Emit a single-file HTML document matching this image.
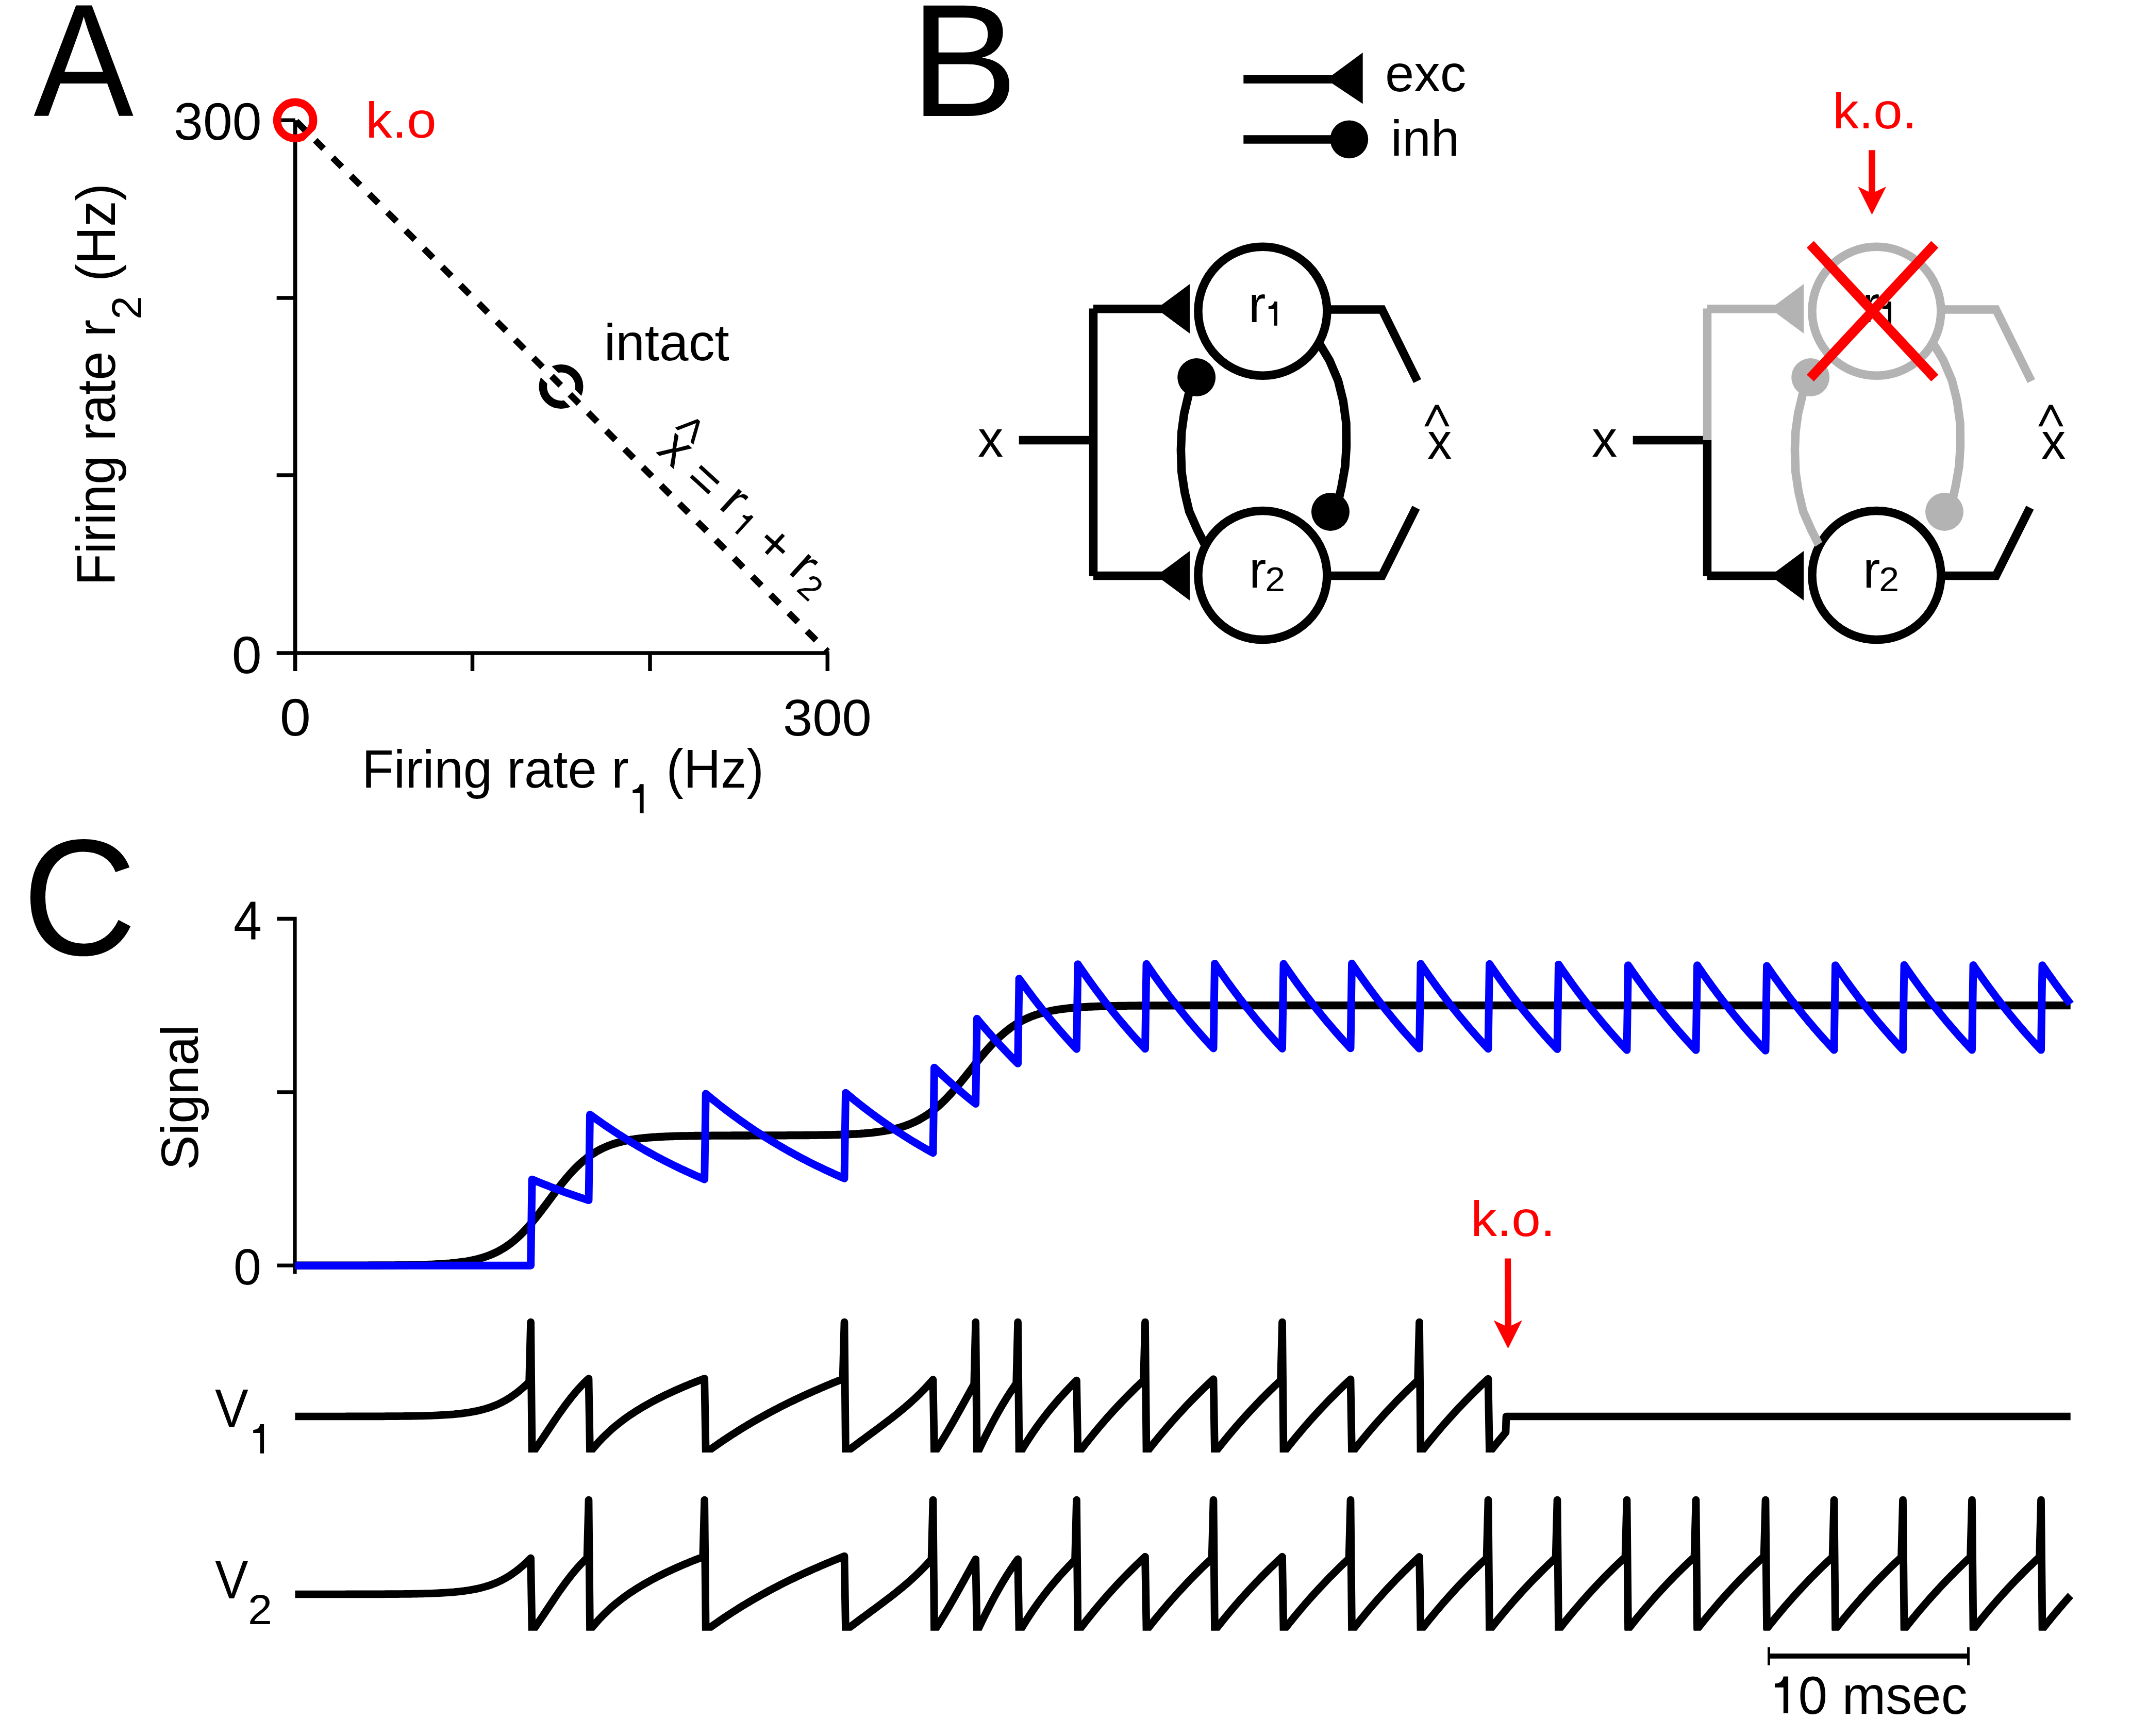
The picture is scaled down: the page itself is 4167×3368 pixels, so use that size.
<!DOCTYPE html>
<html><head><meta charset="utf-8"><style>html,body{margin:0;padding:0;background:#fff}svg{display:block}</style></head><body>
<svg width="4167" height="3368" viewBox="0 0 4167 3368" style="font-family:'Liberation Sans',sans-serif">
<rect width="4167" height="3368" fill="#fff"/>
<text transform="translate(65.2,224.7) scale(0.9340,1)" font-size="311.4" fill="#000">A</text>
<text transform="translate(1765.8,225.0) scale(1.0046,1)" font-size="311.6" fill="#000">B</text>
<text transform="translate(43.4,1852.2) scale(0.9551,1)" font-size="321.2" fill="#000">C</text>
<text transform="translate(337.1,270.7) scale(1,1.0080)" font-size="102.1" fill="#000" >300</text>
<text transform="translate(449.8,1305.5) scale(1,0.9803)" font-size="104.2" fill="#000" >0</text>
<text transform="translate(542.7,1427.0) scale(1,0.9361)" font-size="108.3" fill="#000" >0</text>
<text transform="translate(1518.9,1426.5) scale(1,0.9763)" font-size="103.1" fill="#000" >300</text>
<text transform="translate(701.9,1527.8) scale(1,1.0318)" font-size="101.3" fill="#000">Firing rate r</text>
<path transform="translate(1219.04,1577.50) scale(0.08281,-0.08009)" d="M357,0 L357,703 L266,703 C250,610 190,567 101,567 L101,493 L266,493 L266,0 Z" fill="#000"/>
<text transform="translate(1292.6,1527.8) scale(1,1.0489)" font-size="100.2" fill="#000">(Hz)</text>
<text transform="translate(223.0,1136.1) rotate(-90) scale(1,1.0445)" font-size="101.0" fill="#000">Firing rate r</text>
<text transform="translate(274.1,619.8) rotate(-90) scale(1,0.9936)" font-size="82.0" fill="#000">2</text>
<text transform="translate(222.9,546.0) rotate(-90) scale(1,1.0480)" font-size="100.7" fill="#000">(Hz)</text>
<g stroke="#000" stroke-width="7.5" fill="none" stroke-linecap="butt">
<path d="M572.7,233.3 V1302.0 M536.7,1267.0 H1608.75"/>
<path d="M536.7,233.3 H572.7"/>
<path d="M536.7,578.0 H572.7"/>
<path d="M536.7,922.0 H572.7"/>
<path d="M916.5,1267.0 V1302.0"/>
<path d="M1261.0,1267.0 V1302.0"/>
<path d="M1605.3,1267.0 V1302.0"/>
</g>
<circle cx="1088.5" cy="750" r="35.2" stroke="#000" stroke-width="15.6" fill="none"/>
<path d="M1030,691.5 L1150,811.5" stroke="#fff" stroke-width="30" fill="none"/>
<path d="M572.7,233.3 L1605.5,1264.3" stroke="#000" stroke-width="12.6" stroke-dasharray="25 25" stroke-dashoffset="-2.8" fill="none"/>
<circle cx="572.6" cy="233.3" r="35.1" stroke="#ff0000" stroke-width="15.5" fill="none"/>
<path d="M590.4,272.2 L611.6,251 L622.2,261.6 L601,282.8 Z" fill="#fff"/>
<text transform="translate(709.2,266.9) scale(1,0.9556)" font-size="103.0" fill="#ff0000" >k.o</text>
<text transform="translate(1171.7,698.5) scale(1,0.9790)" font-size="101.7" fill="#000" >intact</text>
<g transform="translate(1271.3,877.2) rotate(42.5)">
<text transform="scale(1,1.02)" font-size="100">x</text>
<path d="M-4.05,-60.80 L16.95,-102.70 L23.65,-102.70 L44.65,-60.80 L37.15,-60.80 L20.35,-94.90 L3.45,-60.80 Z" fill="#000"/>
<text transform="translate(77.4,8) scale(1,1.02)" font-size="100">=</text>
<text transform="translate(160.6,-3) scale(1,1.02)" font-size="100">r</text>
<path transform="translate(201.8,10.5) scale(0.066,-0.066)" d="M357,0 L357,703 L266,703 C250,610 190,567 101,567 L101,493 L266,493 L266,0 Z" fill="#000"/>
<text transform="translate(262.4,9) scale(1,1.02)" font-size="100">+</text>
<text transform="translate(345.6,-1) scale(1,1.02)" font-size="100">r</text>
<text transform="translate(380.9,14) scale(1,1.02)" font-size="66">2</text>
</g>
<g fill="#000" stroke="none">
<path d="M2412.3,154 H2590" stroke="#000" stroke-width="16"/>
<path d="M2572.8,154.3 L2643.7,102.1 L2643.7,201.5 Z"/>
<path d="M2412.3,270.6 H2600" stroke="#000" stroke-width="16.5"/>
<circle cx="2617.3" cy="270.3" r="36.9"/>
</g>
<text transform="translate(2687.0,176.8) scale(1,0.9845)" font-size="101.2" fill="#000" >exc</text>
<text transform="translate(2698.0,301.6) scale(1,0.9811)" font-size="99.8" fill="#000" >inh</text>
<g transform="translate(0,0)" fill="none" stroke-width="16.5" stroke-linecap="butt" stroke-linejoin="miter" stroke-miterlimit="2">
<path d="M1976.7,854 H2121" stroke="#000"/>
<path d="M2121,854 V1118 M2121,1117 H2258" stroke="#000"/>
<path d="M2121,854 V598.5 M2121,599.3 H2258" stroke="#000"/>
<path d="M2243.3,599.1 L2308.1,551.1 L2308.1,647 Z" fill="#000" stroke="none"/>
<path d="M2243.3,1117 L2308.1,1069 L2308.1,1165 Z" fill="#000" stroke="none"/>
<circle cx="2449.4" cy="603.8" r="125" stroke="#000"/>
<circle cx="2449.4" cy="1116" r="125" stroke="#000"/>
<path d="M2574,600.4 H2681 L2749.6,739.3" stroke="#000"/>
<path d="M2574,1117 H2681 L2747,985" stroke="#000"/>
<path d="M2337.5,1056 L2335.4,1052.8 L2322.6,1027.4 L2307,992.1 L2298.2,954.9 L2292.3,915.8 L2290.9,872.7 L2292.3,837.5 L2297.2,802.2 L2306,765 L2312,745" stroke="#000"/>
<path d="M2558,665 L2561.5,669.8 L2579.2,699.2 L2595.8,738.3 L2605.6,777.5 L2611.5,820.5 L2612,865.6 L2609.5,904.7 L2602.6,943.9 L2597.8,965.4 L2592,985" stroke="#000"/>
<circle cx="2321.2" cy="732.1" r="37" fill="#000" stroke="none"/>
<circle cx="2581" cy="992.9" r="37" fill="#000" stroke="none"/>
</g>
<text transform="translate(1897.0,886.3) scale(1,1.0205)" font-size="98.5" fill="#000" >x</text>
<text transform="translate(2769.1,890.0) scale(1,1.0350)" font-size="94.8" fill="#000" >x</text>
<path d="M2763.10,827.30 L2784.10,785.40 L2790.80,785.40 L2811.80,827.30 L2804.30,827.30 L2787.50,793.20 L2770.60,827.30 Z" fill="#000"/>
<text transform="translate(2421.7,624.7) scale(1,0.9808)" font-size="101.2" fill="#000" >r</text>
<path transform="translate(2454.05,631.80) scale(0.06680,-0.06643)" d="M357,0 L357,703 L266,703 C250,610 190,567 101,567 L101,493 L266,493 L266,0 Z" fill="#000"/>
<text transform="translate(2422.9,1139.7) scale(1,0.9886)" font-size="100.4" fill="#000" >r</text>
<text transform="translate(2454.2,1146.7) scale(1,0.9540)" font-size="69.8" fill="#000" >2</text>
<g transform="translate(1191,0)" fill="none" stroke-width="16.5" stroke-linecap="butt" stroke-linejoin="miter" stroke-miterlimit="2">
<path d="M1976.7,854 H2121" stroke="#000"/>
<path d="M2121,854 V1118 M2121,1117 H2258" stroke="#000"/>
<path d="M2121,854 V598.5 M2121,599.3 H2258" stroke="#b3b3b3"/>
<path d="M2243.3,599.1 L2308.1,551.1 L2308.1,647 Z" fill="#b3b3b3" stroke="none"/>
<path d="M2243.3,1117 L2308.1,1069 L2308.1,1165 Z" fill="#000" stroke="none"/>
<circle cx="2449.4" cy="603.8" r="125" stroke="#b3b3b3"/>
<circle cx="2449.4" cy="1116" r="125" stroke="#000"/>
<path d="M2574,600.4 H2681 L2749.6,739.3" stroke="#b3b3b3"/>
<path d="M2574,1117 H2681 L2747,985" stroke="#000"/>
<path d="M2337.5,1056 L2335.4,1052.8 L2322.6,1027.4 L2307,992.1 L2298.2,954.9 L2292.3,915.8 L2290.9,872.7 L2292.3,837.5 L2297.2,802.2 L2306,765 L2312,745" stroke="#b3b3b3"/>
<path d="M2558,665 L2561.5,669.8 L2579.2,699.2 L2595.8,738.3 L2605.6,777.5 L2611.5,820.5 L2612,865.6 L2609.5,904.7 L2602.6,943.9 L2597.8,965.4 L2592,985" stroke="#b3b3b3"/>
<circle cx="2321.2" cy="732.1" r="37" fill="#b3b3b3" stroke="none"/>
<circle cx="2581" cy="992.9" r="37" fill="#b3b3b3" stroke="none"/>
</g>
<text transform="translate(3088.0,886.3) scale(1,1.0205)" font-size="98.5" fill="#000" >x</text>
<text transform="translate(3960.1,890.0) scale(1,1.0350)" font-size="94.8" fill="#000" >x</text>
<path d="M3954.10,827.30 L3975.10,785.40 L3981.80,785.40 L4002.80,827.30 L3995.30,827.30 L3978.50,793.20 L3961.60,827.30 Z" fill="#000"/>
<text transform="translate(3612.7,624.7) scale(1,0.9808)" font-size="101.2" fill="#000" >r</text>
<path transform="translate(3645.05,631.80) scale(0.06680,-0.06643)" d="M357,0 L357,703 L266,703 C250,610 190,567 101,567 L101,493 L266,493 L266,0 Z" fill="#000"/>
<text transform="translate(3613.9,1139.7) scale(1,0.9886)" font-size="100.4" fill="#000" >r</text>
<text transform="translate(3645.2,1146.7) scale(1,0.9540)" font-size="69.8" fill="#000" >2</text>
<path d="M3511.8,474 L3753.4,733.5 M3753.4,474 L3511.8,733.5" stroke="#ff0000" stroke-width="19" fill="none"/>
<path d="M3625.2,291.2 L3637.9,291.2 L3637.9,372 L3659.1,362.1 L3631.5,416.5 L3604.3,362.1 L3625.2,372 Z" fill="#ff0000"/>
<text transform="translate(3555.3,249.4) scale(1,0.9644)" font-size="101.4" fill="#ff0000" >k.o.</text>
<g stroke="#000" stroke-width="7.3" fill="none">
<path d="M537.4,1782.5 H572 V2471.5"/>
<path d="M537.4,2119 H572 M537.4,2455.2 H572"/>
</g>
<text transform="translate(453.0,1822.6) scale(1,1.0714)" font-size="98.8" fill="#000" >4</text>
<text transform="translate(453.1,2491.7) scale(1,1.0134)" font-size="96.9" fill="#000" >0</text>
<text transform="translate(384.0,2270.1) rotate(-90) scale(1,1.0064)" font-size="101.5" fill="#000">Signal</text>
<path d="M572.5,2455.2 L576.5,2455.2 L580.5,2455.2 L584.5,2455.2 L588.5,2455.2 L592.5,2455.2 L596.5,2455.2 L600.5,2455.2 L604.5,2455.2 L608.5,2455.2 L612.5,2455.2 L616.5,2455.2 L620.5,2455.2 L624.5,2455.2 L628.5,2455.2 L632.5,2455.2 L636.5,2455.2 L640.5,2455.2 L644.5,2455.2 L648.5,2455.2 L652.5,2455.2 L656.5,2455.2 L660.5,2455.2 L664.5,2455.1 L668.5,2455.1 L672.5,2455.1 L676.5,2455.1 L680.5,2455.1 L684.5,2455.1 L688.5,2455.1 L692.5,2455.1 L696.5,2455.1 L700.5,2455.1 L704.5,2455.1 L708.5,2455.1 L712.5,2455.1 L716.5,2455 L720.5,2455 L724.5,2455 L728.5,2455 L732.5,2455 L736.5,2455 L740.5,2454.9 L744.5,2454.9 L748.5,2454.9 L752.5,2454.9 L756.5,2454.8 L760.5,2454.8 L764.5,2454.8 L768.5,2454.7 L772.5,2454.7 L776.5,2454.7 L780.5,2454.6 L784.5,2454.6 L788.5,2454.5 L792.5,2454.4 L796.5,2454.4 L800.5,2454.3 L804.5,2454.2 L808.5,2454.1 L812.5,2454 L816.5,2453.9 L820.5,2453.8 L824.5,2453.7 L828.5,2453.6 L832.5,2453.4 L836.5,2453.3 L840.5,2453.1 L844.5,2452.9 L848.5,2452.7 L852.5,2452.5 L856.5,2452.2 L860.5,2452 L864.5,2451.7 L868.5,2451.4 L872.5,2451.1 L876.5,2450.7 L880.5,2450.3 L884.5,2449.9 L888.5,2449.4 L892.5,2448.9 L896.5,2448.4 L900.5,2447.8 L904.5,2447.2 L908.5,2446.5 L912.5,2445.7 L916.5,2444.9 L920.5,2444.1 L924.5,2443.1 L928.5,2442.1 L932.5,2441 L936.5,2439.8 L940.5,2438.5 L944.5,2437.2 L948.5,2435.7 L952.5,2434.1 L956.5,2432.4 L960.5,2430.6 L964.5,2428.6 L968.5,2426.5 L972.5,2424.3 L976.5,2421.9 L980.5,2419.4 L984.5,2416.7 L988.5,2413.8 L992.5,2410.8 L996.5,2407.6 L1000.5,2404.2 L1004.5,2400.6 L1008.5,2396.9 L1012.5,2393 L1016.5,2388.9 L1020.5,2384.7 L1024.5,2380.3 L1026.6,2377.9 L1029.6,2374.4 L1032.1,2371.5 L1036.5,2366.2 L1040.5,2361.2 L1044.5,2356.1 L1048.5,2351 L1052.5,2345.7 L1056.5,2340.4 L1060.5,2335.1 L1064.5,2329.7 L1068.5,2324.4 L1072.5,2319 L1076.5,2313.7 L1080.5,2308.5 L1084.5,2303.3 L1088.5,2298.2 L1092.5,2293.2 L1096.5,2288.3 L1100.5,2283.6 L1104.5,2279 L1108.5,2274.5 L1112.5,2270.3 L1116.5,2266.1 L1120.5,2262.2 L1124.5,2258.4 L1128.5,2254.8 L1132.5,2251.4 L1136.5,2248.2 L1139,2246.2 L1142,2244 L1144.5,2242.2 L1148.5,2239.4 L1152.5,2236.9 L1156.5,2234.4 L1160.5,2232.2 L1164.5,2230 L1168.5,2228.1 L1172.5,2226.2 L1176.5,2224.5 L1180.5,2222.8 L1184.5,2221.3 L1188.5,2219.9 L1192.5,2218.6 L1196.5,2217.4 L1200.5,2216.3 L1204.5,2215.3 L1208.5,2214.3 L1212.5,2213.4 L1216.5,2212.6 L1220.5,2211.8 L1224.5,2211.1 L1228.5,2210.5 L1232.5,2209.9 L1236.5,2209.3 L1240.5,2208.8 L1244.5,2208.4 L1248.5,2207.9 L1252.5,2207.5 L1256.5,2207.2 L1260.5,2206.8 L1264.5,2206.5 L1268.5,2206.2 L1272.5,2206 L1276.5,2205.7 L1280.5,2205.5 L1284.5,2205.3 L1288.5,2205.1 L1292.5,2204.9 L1296.5,2204.8 L1300.5,2204.6 L1304.5,2204.5 L1308.5,2204.3 L1312.5,2204.2 L1316.5,2204.1 L1320.5,2204 L1324.5,2203.9 L1328.5,2203.9 L1332.5,2203.8 L1336.5,2203.7 L1340.5,2203.6 L1344.5,2203.6 L1348.5,2203.5 L1352.5,2203.5 L1356.5,2203.4 L1360.5,2203.4 L1363.7,2203.4 L1366.7,2203.3 L1369.2,2203.3 L1372.5,2203.3 L1376.5,2203.3 L1380.5,2203.2 L1384.5,2203.2 L1388.5,2203.2 L1392.5,2203.2 L1396.5,2203.1 L1400.5,2203.1 L1404.5,2203.1 L1408.5,2203.1 L1412.5,2203.1 L1416.5,2203.1 L1420.5,2203 L1424.5,2203 L1428.5,2203 L1432.5,2203 L1436.5,2203 L1440.5,2203 L1444.5,2203 L1448.5,2203 L1452.5,2203 L1456.5,2202.9 L1460.5,2202.9 L1464.5,2202.9 L1468.5,2202.9 L1472.5,2202.9 L1476.5,2202.9 L1480.5,2202.9 L1484.5,2202.9 L1488.5,2202.9 L1492.5,2202.9 L1496.5,2202.9 L1500.5,2202.8 L1504.5,2202.8 L1508.5,2202.8 L1512.5,2202.8 L1516.5,2202.8 L1520.5,2202.8 L1524.5,2202.8 L1528.5,2202.7 L1532.5,2202.7 L1536.5,2202.7 L1540.5,2202.7 L1544.5,2202.7 L1548.5,2202.6 L1552.5,2202.6 L1556.5,2202.6 L1560.5,2202.5 L1564.5,2202.5 L1568.5,2202.5 L1572.5,2202.4 L1576.5,2202.4 L1580.5,2202.3 L1584.5,2202.3 L1588.5,2202.2 L1592.5,2202.2 L1596.5,2202.1 L1600.5,2202 L1604.5,2202 L1608.5,2201.9 L1612.5,2201.8 L1616.5,2201.7 L1620.5,2201.6 L1624.5,2201.5 L1628.5,2201.4 L1632.5,2201.2 L1635,2201.1 L1638,2201 L1640.5,2200.9 L1644.5,2200.8 L1648.5,2200.6 L1652.5,2200.4 L1656.5,2200.2 L1660.5,2200 L1664.5,2199.7 L1668.5,2199.5 L1672.5,2199.2 L1676.5,2198.9 L1680.5,2198.5 L1684.5,2198.2 L1688.5,2197.8 L1692.5,2197.4 L1696.5,2196.9 L1700.5,2196.4 L1704.5,2195.9 L1708.5,2195.3 L1712.5,2194.7 L1716.5,2194.1 L1720.5,2193.3 L1724.5,2192.6 L1728.5,2191.7 L1732.5,2190.9 L1736.5,2189.9 L1740.5,2188.9 L1744.5,2187.8 L1748.5,2186.6 L1752.5,2185.3 L1756.5,2184 L1760.5,2182.5 L1764.5,2181 L1768.5,2179.3 L1772.5,2177.5 L1776.5,2175.7 L1780.5,2173.7 L1784.5,2171.5 L1788.5,2169.2 L1792.5,2166.8 L1796.5,2164.3 L1800.5,2161.6 L1804.5,2158.8 L1807,2156.9 L1810,2154.6 L1812.5,2152.6 L1816.5,2149.3 L1820.5,2145.9 L1824.5,2142.3 L1828.5,2138.5 L1832.5,2134.6 L1836.5,2130.5 L1840.5,2126.3 L1844.5,2122 L1848.5,2117.5 L1852.5,2113 L1856.5,2108.3 L1860.5,2103.5 L1864.5,2098.7 L1868.5,2093.7 L1872.5,2088.8 L1876.5,2083.7 L1880.5,2078.7 L1884.5,2073.7 L1888.5,2068.6 L1889.7,2067.1 L1892.7,2063.4 L1895.2,2060.3 L1896.5,2058.6 L1900.5,2053.7 L1904.5,2048.9 L1908.5,2044.1 L1912.5,2039.5 L1916.5,2034.9 L1920.5,2030.5 L1924.5,2026.2 L1928.5,2022 L1932.5,2018 L1936.5,2014.1 L1940.5,2010.4 L1944.5,2006.9 L1948.5,2003.4 L1952.5,2000.2 L1956.5,1997.1 L1960.5,1994.1 L1964.5,1991.3 L1968.5,1988.7 L1971.6,1986.7 L1974.6,1984.9 L1977.1,1983.4 L1980.5,1981.5 L1984.5,1979.4 L1988.5,1977.5 L1992.5,1975.6 L1996.5,1973.9 L2000.5,1972.2 L2004.5,1970.7 L2008.5,1969.3 L2012.5,1968 L2016.5,1966.7 L2020.5,1965.6 L2024.5,1964.5 L2028.5,1963.5 L2032.5,1962.5 L2036.5,1961.7 L2040.5,1960.8 L2044.5,1960.1 L2048.5,1959.4 L2052.5,1958.7 L2056.5,1958.1 L2060.5,1957.6 L2064.5,1957.1 L2068.5,1956.6 L2072.5,1956.1 L2076.5,1955.7 L2080.5,1955.3 L2084.5,1955 L2085.5,1954.9 L2088.5,1954.7 L2091,1954.5 L2092.5,1954.4 L2096.5,1954.1 L2100.5,1953.8 L2104.5,1953.6 L2108.5,1953.4 L2112.5,1953.2 L2116.5,1953 L2120.5,1952.8 L2124.5,1952.6 L2128.5,1952.5 L2132.5,1952.3 L2136.5,1952.2 L2140.5,1952.1 L2144.5,1952 L2148.5,1951.9 L2152.5,1951.8 L2156.5,1951.7 L2160.5,1951.6 L2164.5,1951.6 L2168.5,1951.5 L2172.5,1951.4 L2176.5,1951.4 L2180.5,1951.3 L2184.5,1951.3 L2188.5,1951.2 L2192.5,1951.2 L2196.5,1951.1 L2200.5,1951.1 L2204.5,1951.1 L2208.5,1951 L2212.5,1951 L2216.5,1951 L2218.5,1951 L2221.5,1951 L2224,1950.9 L2228.5,1950.9 L2232.5,1950.9 L2236.5,1950.9 L2240.5,1950.9 L2244.5,1950.9 L2248.5,1950.8 L2252.5,1950.8 L2256.5,1950.8 L2260.5,1950.8 L2264.5,1950.8 L2268.5,1950.8 L2272.5,1950.8 L2276.5,1950.8 L2280.5,1950.8 L2284.5,1950.8 L2288.5,1950.7 L2292.5,1950.7 L2296.5,1950.7 L2300.5,1950.7 L2304.5,1950.7 L2308.5,1950.7 L2312.5,1950.7 L2316.5,1950.7 L2320.5,1950.7 L2324.5,1950.7 L2328.5,1950.7 L2332.5,1950.7 L2336.5,1950.7 L2340.5,1950.7 L2344.5,1950.7 L2348.5,1950.7 L2351,1950.7 L2354,1950.7 L2356.5,1950.7 L2360.5,1950.7 L2364.5,1950.7 L2368.5,1950.7 L2372.5,1950.7 L2376.5,1950.7 L2380.5,1950.7 L2384.5,1950.7 L2388.5,1950.7 L2392.5,1950.7 L2396.5,1950.7 L2400.5,1950.7 L2404.5,1950.7 L2408.5,1950.7 L2412.5,1950.7 L2416.5,1950.7 L2420.5,1950.7 L2424.5,1950.7 L2428.5,1950.7 L2432.5,1950.7 L2436.5,1950.7 L2440.5,1950.7 L2444.5,1950.7 L2448.5,1950.7 L2452.5,1950.7 L2456.5,1950.7 L2460.5,1950.7 L2464.5,1950.7 L2468.5,1950.7 L2472.5,1950.7 L2476.5,1950.7 L2480.5,1950.7 L2484.5,1950.7 L2487.5,1950.7 L2490,1950.7 L2492.5,1950.7 L2496.5,1950.7 L2500.5,1950.7 L2504.5,1950.7 L2508.5,1950.7 L2512.5,1950.7 L2516.5,1950.7 L2520.5,1950.7 L2524.5,1950.7 L2528.5,1950.7 L2532.5,1950.7 L2536.5,1950.7 L2540.5,1950.7 L2544.5,1950.7 L2548.5,1950.7 L2552.5,1950.7 L2556.5,1950.7 L2560.5,1950.7 L2564.5,1950.7 L2568.5,1950.7 L2572.5,1950.7 L2576.5,1950.7 L2580.5,1950.7 L2584.5,1950.7 L2588.5,1950.7 L2592.5,1950.7 L2596.5,1950.7 L2600.5,1950.7 L2604.5,1950.7 L2608.5,1950.7 L2612.5,1950.7 L2616.5,1950.7 L2617,1950.7 L2620,1950.7 L2622.5,1950.7 L2624.5,1950.7 L2628.5,1950.7 L2632.5,1950.7 L2636.5,1950.7 L2640.5,1950.7 L2644.5,1950.7 L2648.5,1950.7 L2652.5,1950.7 L2656.5,1950.7 L2660.5,1950.7 L2664.5,1950.7 L2668.5,1950.7 L2672.5,1950.7 L2676.5,1950.7 L2680.5,1950.7 L2684.5,1950.7 L2688.5,1950.7 L2692.5,1950.7 L2696.5,1950.7 L2700.5,1950.7 L2704.5,1950.7 L2708.5,1950.7 L2712.5,1950.7 L2716.5,1950.7 L2720.5,1950.7 L2724.5,1950.7 L2728.5,1950.7 L2732.5,1950.7 L2736.5,1950.7 L2740.5,1950.7 L2744.5,1950.7 L2748.5,1950.7 L2750.5,1950.7 L2753.5,1950.7 L2756,1950.7 L2760.5,1950.7 L2764.5,1950.7 L2768.5,1950.7 L2772.5,1950.7 L2776.5,1950.7 L2780.5,1950.7 L2784.5,1950.7 L2788.5,1950.7 L2792.5,1950.7 L2796.5,1950.7 L2800.5,1950.7 L2804.5,1950.7 L2808.5,1950.7 L2812.5,1950.7 L2816.5,1950.7 L2820.5,1950.7 L2824.5,1950.7 L2828.5,1950.7 L2832.5,1950.7 L2836.5,1950.7 L2840.5,1950.7 L2844.5,1950.7 L2848.5,1950.7 L2852.5,1950.7 L2856.5,1950.7 L2860.5,1950.7 L2864.5,1950.7 L2868.5,1950.7 L2872.5,1950.7 L2876.5,1950.7 L2880.5,1950.7 L2884,1950.7 L2887,1950.7 L2889.5,1950.7 L2892.5,1950.7 L2896.5,1950.7 L2900.5,1950.7 L2904.5,1950.7 L2908.5,1950.7 L2912.5,1950.7 L2916.5,1950.7 L2920.5,1950.7 L2924.5,1950.7 L2928.5,1950.7 L2932.5,1950.7 L2936.5,1950.7 L2940.5,1950.7 L2944.5,1950.7 L2948.5,1950.7 L2952.5,1950.7 L2956.5,1950.7 L2960.5,1950.7 L2964.5,1950.7 L2968.5,1950.7 L2972.5,1950.7 L2976.5,1950.7 L2980.5,1950.7 L2984.5,1950.7 L2988.5,1950.7 L2992.5,1950.7 L2996.5,1950.7 L3000.5,1950.7 L3004.5,1950.7 L3008.5,1950.7 L3012.5,1950.7 L3016.5,1950.7 L3018,1950.7 L3021,1950.7 L3023.5,1950.7 L3024.5,1950.7 L3028.5,1950.7 L3032.5,1950.7 L3036.5,1950.7 L3040.5,1950.7 L3044.5,1950.7 L3048.5,1950.7 L3052.5,1950.7 L3056.5,1950.7 L3060.5,1950.7 L3064.5,1950.7 L3068.5,1950.7 L3072.5,1950.7 L3076.5,1950.7 L3080.5,1950.7 L3084.5,1950.7 L3088.5,1950.7 L3092.5,1950.7 L3096.5,1950.7 L3100.5,1950.7 L3104.5,1950.7 L3108.5,1950.7 L3112.5,1950.7 L3116.5,1950.7 L3120.5,1950.7 L3124.5,1950.7 L3128.5,1950.7 L3132.5,1950.7 L3136.5,1950.7 L3140.5,1950.7 L3144.5,1950.7 L3148.5,1950.7 L3152.5,1950.7 L3153,1950.7 L3156,1950.7 L3158.5,1950.7 L3160.5,1950.7 L3164.5,1950.7 L3168.5,1950.7 L3172.5,1950.7 L3176.5,1950.7 L3180.5,1950.7 L3184.5,1950.7 L3188.5,1950.7 L3192.5,1950.7 L3196.5,1950.7 L3200.5,1950.7 L3204.5,1950.7 L3208.5,1950.7 L3212.5,1950.7 L3216.5,1950.7 L3220.5,1950.7 L3224.5,1950.7 L3228.5,1950.7 L3232.5,1950.7 L3236.5,1950.7 L3240.5,1950.7 L3244.5,1950.7 L3248.5,1950.7 L3252.5,1950.7 L3256.5,1950.7 L3260.5,1950.7 L3264.5,1950.7 L3268.5,1950.7 L3272.5,1950.7 L3276.5,1950.7 L3280.5,1950.7 L3284.5,1950.7 L3287,1950.7 L3290,1950.7 L3292.5,1950.7 L3296.5,1950.7 L3300.5,1950.7 L3304.5,1950.7 L3308.5,1950.7 L3312.5,1950.7 L3316.5,1950.7 L3320.5,1950.7 L3324.5,1950.7 L3328.5,1950.7 L3332.5,1950.7 L3336.5,1950.7 L3340.5,1950.7 L3344.5,1950.7 L3348.5,1950.7 L3352.5,1950.7 L3356.5,1950.7 L3360.5,1950.7 L3364.5,1950.7 L3368.5,1950.7 L3372.5,1950.7 L3376.5,1950.7 L3380.5,1950.7 L3384.5,1950.7 L3388.5,1950.7 L3392.5,1950.7 L3396.5,1950.7 L3400.5,1950.7 L3404.5,1950.7 L3408.5,1950.7 L3412.5,1950.7 L3416.5,1950.7 L3420.5,1950.7 L3422,1950.7 L3425,1950.7 L3427.5,1950.7 L3428.5,1950.7 L3432.5,1950.7 L3436.5,1950.7 L3440.5,1950.7 L3444.5,1950.7 L3448.5,1950.7 L3452.5,1950.7 L3456.5,1950.7 L3460.5,1950.7 L3464.5,1950.7 L3468.5,1950.7 L3472.5,1950.7 L3476.5,1950.7 L3480.5,1950.7 L3484.5,1950.7 L3488.5,1950.7 L3492.5,1950.7 L3496.5,1950.7 L3500.5,1950.7 L3504.5,1950.7 L3508.5,1950.7 L3512.5,1950.7 L3516.5,1950.7 L3520.5,1950.7 L3524.5,1950.7 L3528.5,1950.7 L3532.5,1950.7 L3536.5,1950.7 L3540.5,1950.7 L3544.5,1950.7 L3548.5,1950.7 L3552.5,1950.7 L3555,1950.7 L3558,1950.7 L3560.5,1950.7 L3564.5,1950.7 L3568.5,1950.7 L3572.5,1950.7 L3576.5,1950.7 L3580.5,1950.7 L3584.5,1950.7 L3588.5,1950.7 L3592.5,1950.7 L3596.5,1950.7 L3600.5,1950.7 L3604.5,1950.7 L3608.5,1950.7 L3612.5,1950.7 L3616.5,1950.7 L3620.5,1950.7 L3624.5,1950.7 L3628.5,1950.7 L3632.5,1950.7 L3636.5,1950.7 L3640.5,1950.7 L3644.5,1950.7 L3648.5,1950.7 L3652.5,1950.7 L3656.5,1950.7 L3660.5,1950.7 L3664.5,1950.7 L3668.5,1950.7 L3672.5,1950.7 L3676.5,1950.7 L3680.5,1950.7 L3684.5,1950.7 L3688.5,1950.7 L3691.5,1950.7 L3694,1950.7 L3696.5,1950.7 L3700.5,1950.7 L3704.5,1950.7 L3708.5,1950.7 L3712.5,1950.7 L3716.5,1950.7 L3720.5,1950.7 L3724.5,1950.7 L3728.5,1950.7 L3732.5,1950.7 L3736.5,1950.7 L3740.5,1950.7 L3744.5,1950.7 L3748.5,1950.7 L3752.5,1950.7 L3756.5,1950.7 L3760.5,1950.7 L3764.5,1950.7 L3768.5,1950.7 L3772.5,1950.7 L3776.5,1950.7 L3780.5,1950.7 L3784.5,1950.7 L3788.5,1950.7 L3792.5,1950.7 L3796.5,1950.7 L3800.5,1950.7 L3804.5,1950.7 L3808.5,1950.7 L3812.5,1950.7 L3816.5,1950.7 L3820.5,1950.7 L3822.5,1950.7 L3825.5,1950.7 L3828,1950.7 L3832.5,1950.7 L3836.5,1950.7 L3840.5,1950.7 L3844.5,1950.7 L3848.5,1950.7 L3852.5,1950.7 L3856.5,1950.7 L3860.5,1950.7 L3864.5,1950.7 L3868.5,1950.7 L3872.5,1950.7 L3876.5,1950.7 L3880.5,1950.7 L3884.5,1950.7 L3888.5,1950.7 L3892.5,1950.7 L3896.5,1950.7 L3900.5,1950.7 L3904.5,1950.7 L3908.5,1950.7 L3912.5,1950.7 L3916.5,1950.7 L3920.5,1950.7 L3924.5,1950.7 L3928.5,1950.7 L3932.5,1950.7 L3936.5,1950.7 L3940.5,1950.7 L3944.5,1950.7 L3948.5,1950.7 L3952.5,1950.7 L3956.5,1950.7 L3959.5,1950.7 L3962,1950.7 L3964.5,1950.7 L3968.5,1950.7 L3972.5,1950.7 L3976.5,1950.7 L3980.5,1950.7 L3984.5,1950.7 L3988.5,1950.7 L3992.5,1950.7 L3996.5,1950.7 L4000.5,1950.7 L4004.5,1950.7 L4008.5,1950.7 L4012.5,1950.7 L4016.5,1950.7 L4016.7,1950.7" stroke="#000" stroke-width="15.3" fill="none" stroke-linejoin="round"/>
<path d="M572.5,2455.2 L576.5,2455.2 L580.5,2455.2 L584.5,2455.2 L588.5,2455.2 L592.5,2455.2 L596.5,2455.2 L600.5,2455.2 L604.5,2455.2 L608.5,2455.2 L612.5,2455.2 L616.5,2455.2 L620.5,2455.2 L624.5,2455.2 L628.5,2455.2 L632.5,2455.2 L636.5,2455.2 L640.5,2455.2 L644.5,2455.2 L648.5,2455.2 L652.5,2455.2 L656.5,2455.2 L660.5,2455.2 L664.5,2455.2 L668.5,2455.2 L672.5,2455.2 L676.5,2455.2 L680.5,2455.2 L684.5,2455.2 L688.5,2455.2 L692.5,2455.2 L696.5,2455.2 L700.5,2455.2 L704.5,2455.2 L708.5,2455.2 L712.5,2455.2 L716.5,2455.2 L720.5,2455.2 L724.5,2455.2 L728.5,2455.2 L732.5,2455.2 L736.5,2455.2 L740.5,2455.2 L744.5,2455.2 L748.5,2455.2 L752.5,2455.2 L756.5,2455.2 L760.5,2455.2 L764.5,2455.2 L768.5,2455.2 L772.5,2455.2 L776.5,2455.2 L780.5,2455.2 L784.5,2455.2 L788.5,2455.2 L792.5,2455.2 L796.5,2455.2 L800.5,2455.2 L804.5,2455.2 L808.5,2455.2 L812.5,2455.2 L816.5,2455.2 L820.5,2455.2 L824.5,2455.2 L828.5,2455.2 L832.5,2455.2 L836.5,2455.2 L840.5,2455.2 L844.5,2455.2 L848.5,2455.2 L852.5,2455.2 L856.5,2455.2 L860.5,2455.2 L864.5,2455.2 L868.5,2455.2 L872.5,2455.2 L876.5,2455.2 L880.5,2455.2 L884.5,2455.2 L888.5,2455.2 L892.5,2455.2 L896.5,2455.2 L900.5,2455.2 L904.5,2455.2 L908.5,2455.2 L912.5,2455.2 L916.5,2455.2 L920.5,2455.2 L924.5,2455.2 L928.5,2455.2 L932.5,2455.2 L936.5,2455.2 L940.5,2455.2 L944.5,2455.2 L948.5,2455.2 L952.5,2455.2 L956.5,2455.2 L960.5,2455.2 L964.5,2455.2 L968.5,2455.2 L972.5,2455.2 L976.5,2455.2 L980.5,2455.2 L984.5,2455.2 L988.5,2455.2 L992.5,2455.2 L996.5,2455.2 L1000.5,2455.2 L1004.5,2455.2 L1008.5,2455.2 L1012.5,2455.2 L1016.5,2455.2 L1020.5,2455.2 L1024.5,2455.2 L1026.6,2455.2 L1029.6,2455.2 L1032.1,2288.1 L1036.5,2289.9 L1040.5,2291.6 L1044.5,2293.2 L1048.5,2294.9 L1052.5,2296.5 L1056.5,2298.1 L1060.5,2299.6 L1064.5,2301.2 L1068.5,2302.8 L1072.5,2304.3 L1076.5,2305.8 L1080.5,2307.3 L1084.5,2308.8 L1088.5,2310.3 L1092.5,2311.7 L1096.5,2313.2 L1100.5,2314.6 L1104.5,2316 L1108.5,2317.4 L1112.5,2318.8 L1116.5,2320.2 L1120.5,2321.5 L1124.5,2322.9 L1128.5,2324.2 L1132.5,2325.5 L1136.5,2326.8 L1139,2327.6 L1142,2328.6 L1144.5,2162.3 L1148.5,2165.2 L1152.5,2168.1 L1156.5,2171 L1160.5,2173.9 L1164.5,2176.7 L1168.5,2179.5 L1172.5,2182.3 L1176.5,2185 L1180.5,2187.7 L1184.5,2190.4 L1188.5,2193.1 L1192.5,2195.7 L1196.5,2198.3 L1200.5,2200.9 L1204.5,2203.4 L1208.5,2206 L1212.5,2208.5 L1216.5,2211 L1220.5,2213.4 L1224.5,2215.8 L1228.5,2218.3 L1232.5,2220.6 L1236.5,2223 L1240.5,2225.3 L1244.5,2227.6 L1248.5,2229.9 L1252.5,2232.2 L1256.5,2234.4 L1260.5,2236.6 L1264.5,2238.8 L1268.5,2241 L1272.5,2243.2 L1276.5,2245.3 L1280.5,2247.4 L1284.5,2249.5 L1288.5,2251.6 L1292.5,2253.6 L1296.5,2255.6 L1300.5,2257.6 L1304.5,2259.6 L1308.5,2261.6 L1312.5,2263.5 L1316.5,2265.5 L1320.5,2267.4 L1324.5,2269.3 L1328.5,2271.1 L1332.5,2273 L1336.5,2274.8 L1340.5,2276.6 L1344.5,2278.4 L1348.5,2280.2 L1352.5,2282 L1356.5,2283.7 L1360.5,2285.4 L1363.7,2286.8 L1366.7,2288.1 L1369.2,2122 L1372.5,2124.8 L1376.5,2128.1 L1380.5,2131.4 L1384.5,2134.6 L1388.5,2137.8 L1392.5,2141 L1396.5,2144.2 L1400.5,2147.3 L1404.5,2150.4 L1408.5,2153.5 L1412.5,2156.5 L1416.5,2159.5 L1420.5,2162.5 L1424.5,2165.4 L1428.5,2168.3 L1432.5,2171.2 L1436.5,2174.1 L1440.5,2176.9 L1444.5,2179.7 L1448.5,2182.5 L1452.5,2185.2 L1456.5,2187.9 L1460.5,2190.6 L1464.5,2193.3 L1468.5,2195.9 L1472.5,2198.5 L1476.5,2201.1 L1480.5,2203.6 L1484.5,2206.2 L1488.5,2208.7 L1492.5,2211.1 L1496.5,2213.6 L1500.5,2216 L1504.5,2218.4 L1508.5,2220.8 L1512.5,2223.2 L1516.5,2225.5 L1520.5,2227.8 L1524.5,2230.1 L1528.5,2232.4 L1532.5,2234.6 L1536.5,2236.8 L1540.5,2239 L1544.5,2241.2 L1548.5,2243.3 L1552.5,2245.5 L1556.5,2247.6 L1560.5,2249.7 L1564.5,2251.7 L1568.5,2253.8 L1572.5,2255.8 L1576.5,2257.8 L1580.5,2259.8 L1584.5,2261.7 L1588.5,2263.7 L1592.5,2265.6 L1596.5,2267.5 L1600.5,2269.4 L1604.5,2271.3 L1608.5,2273.1 L1612.5,2274.9 L1616.5,2276.8 L1620.5,2278.6 L1624.5,2280.3 L1628.5,2282.1 L1632.5,2283.8 L1635,2284.9 L1638,2286.2 L1640.5,2120.1 L1644.5,2123.5 L1648.5,2126.8 L1652.5,2130.1 L1656.5,2133.4 L1660.5,2136.6 L1664.5,2139.8 L1668.5,2143 L1672.5,2146.1 L1676.5,2149.3 L1680.5,2152.3 L1684.5,2155.4 L1688.5,2158.4 L1692.5,2161.4 L1696.5,2164.3 L1700.5,2167.2 L1704.5,2170.1 L1708.5,2173 L1712.5,2175.8 L1716.5,2178.6 L1720.5,2181.4 L1724.5,2184.2 L1728.5,2186.9 L1732.5,2189.6 L1736.5,2192.3 L1740.5,2194.9 L1744.5,2197.5 L1748.5,2200.1 L1752.5,2202.7 L1756.5,2205.2 L1760.5,2207.7 L1764.5,2210.2 L1768.5,2212.7 L1772.5,2215.1 L1776.5,2217.5 L1780.5,2219.9 L1784.5,2222.3 L1788.5,2224.6 L1792.5,2226.9 L1796.5,2229.2 L1800.5,2231.5 L1804.5,2233.8 L1807,2235.1 L1810,2236.8 L1812.5,2071.1 L1816.5,2074.9 L1820.5,2078.7 L1824.5,2082.5 L1828.5,2086.3 L1832.5,2090 L1836.5,2093.7 L1840.5,2097.3 L1844.5,2100.9 L1848.5,2104.4 L1852.5,2108 L1856.5,2111.5 L1860.5,2114.9 L1864.5,2118.3 L1868.5,2121.7 L1872.5,2125.1 L1876.5,2128.4 L1880.5,2131.7 L1884.5,2134.9 L1888.5,2138.1 L1889.7,2139.1 L1892.7,2141.5 L1895.2,1976.3 L1896.5,1977.9 L1900.5,1982.7 L1904.5,1987.5 L1908.5,1992.2 L1912.5,1996.8 L1916.5,2001.4 L1920.5,2006 L1924.5,2010.5 L1928.5,2015 L1932.5,2019.4 L1936.5,2023.8 L1940.5,2028.1 L1944.5,2032.4 L1948.5,2036.6 L1952.5,2040.9 L1956.5,2045 L1960.5,2049.1 L1964.5,2053.2 L1968.5,2057.3 L1971.6,2060.4 L1974.6,2063.3 L1977.1,1898.7 L1980.5,1903.5 L1984.5,1909 L1988.5,1914.5 L1992.5,1919.9 L1996.5,1925.3 L2000.5,1930.6 L2004.5,1935.9 L2008.5,1941.1 L2012.5,1946.3 L2016.5,1951.4 L2020.5,1956.5 L2024.5,1961.5 L2028.5,1966.4 L2032.5,1971.3 L2036.5,1976.2 L2040.5,1981 L2044.5,1985.8 L2048.5,1990.5 L2052.5,1995.2 L2056.5,1999.8 L2060.5,2004.4 L2064.5,2008.9 L2068.5,2013.4 L2072.5,2017.8 L2076.5,2022.2 L2080.5,2026.6 L2084.5,2030.9 L2085.5,2032 L2088.5,2035.2 L2091,1870.7 L2092.5,1872.9 L2096.5,1878.7 L2100.5,1884.5 L2104.5,1890.3 L2108.5,1896 L2112.5,1901.6 L2116.5,1907.1 L2120.5,1912.6 L2124.5,1918.1 L2128.5,1923.5 L2132.5,1928.8 L2136.5,1934.1 L2140.5,1939.4 L2144.5,1944.5 L2148.5,1949.7 L2152.5,1954.8 L2156.5,1959.8 L2160.5,1964.8 L2164.5,1969.7 L2168.5,1974.6 L2172.5,1979.4 L2176.5,1984.2 L2180.5,1988.9 L2184.5,1993.6 L2188.5,1998.2 L2192.5,2002.8 L2196.5,2007.4 L2200.5,2011.9 L2204.5,2016.3 L2208.5,2020.8 L2212.5,2025.1 L2216.5,2029.4 L2218.5,2031.6 L2221.5,2034.8 L2224,1870.3 L2228.5,1876.9 L2232.5,1882.7 L2236.5,1888.5 L2240.5,1894.2 L2244.5,1899.8 L2248.5,1905.4 L2252.5,1910.9 L2256.5,1916.4 L2260.5,1921.8 L2264.5,1927.2 L2268.5,1932.5 L2272.5,1937.7 L2276.5,1942.9 L2280.5,1948.1 L2284.5,1953.2 L2288.5,1958.2 L2292.5,1963.2 L2296.5,1968.2 L2300.5,1973.1 L2304.5,1977.9 L2308.5,1982.7 L2312.5,1987.5 L2316.5,1992.2 L2320.5,1996.8 L2324.5,2001.4 L2328.5,2006 L2332.5,2010.5 L2336.5,2015 L2340.5,2019.4 L2344.5,2023.8 L2348.5,2028.1 L2351,2030.8 L2354,2034 L2356.5,1869.5 L2360.5,1875.4 L2364.5,1881.2 L2368.5,1887 L2372.5,1892.7 L2376.5,1898.4 L2380.5,1904 L2384.5,1909.5 L2388.5,1915 L2392.5,1920.4 L2396.5,1925.8 L2400.5,1931.1 L2404.5,1936.4 L2408.5,1941.6 L2412.5,1946.8 L2416.5,1951.9 L2420.5,1956.9 L2424.5,1961.9 L2428.5,1966.9 L2432.5,1971.8 L2436.5,1976.7 L2440.5,1981.5 L2444.5,1986.2 L2448.5,1990.9 L2452.5,1995.6 L2456.5,2000.2 L2460.5,2004.8 L2464.5,2009.3 L2468.5,2013.8 L2472.5,2018.2 L2476.5,2022.6 L2480.5,2027 L2484.5,2031.3 L2487.5,2034.5 L2490,1870 L2492.5,1873.7 L2496.5,1879.5 L2500.5,1885.3 L2504.5,1891.1 L2508.5,1896.7 L2512.5,1902.3 L2516.5,1907.9 L2520.5,1913.4 L2524.5,1918.8 L2528.5,1924.2 L2532.5,1929.6 L2536.5,1934.8 L2540.5,1940.1 L2544.5,1945.3 L2548.5,1950.4 L2552.5,1955.5 L2556.5,1960.5 L2560.5,1965.4 L2564.5,1970.4 L2568.5,1975.2 L2572.5,1980.1 L2576.5,1984.8 L2580.5,1989.6 L2584.5,1994.2 L2588.5,1998.9 L2592.5,2003.5 L2596.5,2008 L2600.5,2012.5 L2604.5,2017 L2608.5,2021.4 L2612.5,2025.7 L2616.5,2030 L2617,2030.6 L2620,2033.8 L2622.5,1869.3 L2624.5,1872.3 L2628.5,1878.1 L2632.5,1883.9 L2636.5,1889.7 L2640.5,1895.3 L2644.5,1901 L2648.5,1906.5 L2652.5,1912.1 L2656.5,1917.5 L2660.5,1922.9 L2664.5,1928.3 L2668.5,1933.6 L2672.5,1938.8 L2676.5,1944 L2680.5,1949.1 L2684.5,1954.2 L2688.5,1959.3 L2692.5,1964.2 L2696.5,1969.2 L2700.5,1974.1 L2704.5,1978.9 L2708.5,1983.7 L2712.5,1988.4 L2716.5,1993.1 L2720.5,1997.8 L2724.5,2002.4 L2728.5,2006.9 L2732.5,2011.4 L2736.5,2015.9 L2740.5,2020.3 L2744.5,2024.7 L2748.5,2029 L2750.5,2031.1 L2753.5,2034.3 L2756,1869.9 L2760.5,1876.5 L2764.5,1882.3 L2768.5,1888 L2772.5,1893.7 L2776.5,1899.4 L2780.5,1905 L2784.5,1910.5 L2788.5,1916 L2792.5,1921.4 L2796.5,1926.8 L2800.5,1932.1 L2804.5,1937.3 L2808.5,1942.5 L2812.5,1947.7 L2816.5,1952.8 L2820.5,1957.8 L2824.5,1962.8 L2828.5,1967.8 L2832.5,1972.7 L2836.5,1977.5 L2840.5,1982.3 L2844.5,1987.1 L2848.5,1991.8 L2852.5,1996.5 L2856.5,2001.1 L2860.5,2005.6 L2864.5,2010.1 L2868.5,2014.6 L2872.5,2019 L2876.5,2023.4 L2880.5,2027.8 L2884,2031.5 L2887,2034.7 L2889.5,1870.3 L2892.5,1874.7 L2896.5,1880.5 L2900.5,1886.3 L2904.5,1892 L2908.5,1897.7 L2912.5,1903.3 L2916.5,1908.8 L2920.5,1914.3 L2924.5,1919.7 L2928.5,1925.1 L2932.5,1930.4 L2936.5,1935.7 L2940.5,1940.9 L2944.5,1946.1 L2948.5,1951.2 L2952.5,1956.3 L2956.5,1961.3 L2960.5,1966.3 L2964.5,1971.2 L2968.5,1976 L2972.5,1980.9 L2976.5,1985.6 L2980.5,1990.3 L2984.5,1995 L2988.5,1999.6 L2992.5,2004.2 L2996.5,2008.8 L3000.5,2013.2 L3004.5,2017.7 L3008.5,2022.1 L3012.5,2026.4 L3016.5,2030.7 L3018,2032.3 L3021,2035.5 L3023.5,1871.1 L3024.5,1872.5 L3028.5,1878.4 L3032.5,1884.2 L3036.5,1889.9 L3040.5,1895.6 L3044.5,1901.2 L3048.5,1906.8 L3052.5,1912.3 L3056.5,1917.8 L3060.5,1923.2 L3064.5,1928.5 L3068.5,1933.8 L3072.5,1939.1 L3076.5,1944.2 L3080.5,1949.4 L3084.5,1954.5 L3088.5,1959.5 L3092.5,1964.5 L3096.5,1969.4 L3100.5,1974.3 L3104.5,1979.1 L3108.5,1983.9 L3112.5,1988.6 L3116.5,1993.3 L3120.5,1998 L3124.5,2002.6 L3128.5,2007.1 L3132.5,2011.6 L3136.5,2016.1 L3140.5,2020.5 L3144.5,2024.9 L3148.5,2029.2 L3152.5,2033.5 L3153,2034 L3156,2037.2 L3158.5,1872.7 L3160.5,1875.6 L3164.5,1881.4 L3168.5,1887.2 L3172.5,1892.9 L3176.5,1898.6 L3180.5,1904.2 L3184.5,1909.7 L3188.5,1915.2 L3192.5,1920.6 L3196.5,1926 L3200.5,1931.3 L3204.5,1936.6 L3208.5,1941.8 L3212.5,1946.9 L3216.5,1952.1 L3220.5,1957.1 L3224.5,1962.1 L3228.5,1967.1 L3232.5,1972 L3236.5,1976.8 L3240.5,1981.6 L3244.5,1986.4 L3248.5,1991.1 L3252.5,1995.8 L3256.5,2000.4 L3260.5,2005 L3264.5,2009.5 L3268.5,2014 L3272.5,2018.4 L3276.5,2022.8 L3280.5,2027.1 L3284.5,2031.4 L3287,2034.1 L3290,2037.3 L3292.5,1872.8 L3296.5,1878.7 L3300.5,1884.4 L3304.5,1890.2 L3308.5,1895.9 L3312.5,1901.5 L3316.5,1907 L3320.5,1912.6 L3324.5,1918 L3328.5,1923.4 L3332.5,1928.8 L3336.5,1934 L3340.5,1939.3 L3344.5,1944.5 L3348.5,1949.6 L3352.5,1954.7 L3356.5,1959.7 L3360.5,1964.7 L3364.5,1969.6 L3368.5,1974.5 L3372.5,1979.3 L3376.5,1984.1 L3380.5,1988.9 L3384.5,1993.5 L3388.5,1998.2 L3392.5,2002.8 L3396.5,2007.3 L3400.5,2011.8 L3404.5,2016.3 L3408.5,2020.7 L3412.5,2025.1 L3416.5,2029.4 L3420.5,2033.7 L3422,2035.2 L3425,2038.4 L3427.5,1873.9 L3428.5,1875.4 L3432.5,1881.2 L3436.5,1887 L3440.5,1892.7 L3444.5,1898.4 L3448.5,1903.9 L3452.5,1909.5 L3456.5,1915 L3460.5,1920.4 L3464.5,1925.8 L3468.5,1931.1 L3472.5,1936.4 L3476.5,1941.6 L3480.5,1946.7 L3484.5,1951.9 L3488.5,1956.9 L3492.5,1961.9 L3496.5,1966.9 L3500.5,1971.8 L3504.5,1976.6 L3508.5,1981.5 L3512.5,1986.2 L3516.5,1990.9 L3520.5,1995.6 L3524.5,2000.2 L3528.5,2004.8 L3532.5,2009.3 L3536.5,2013.8 L3540.5,2018.2 L3544.5,2022.6 L3548.5,2027 L3552.5,2031.3 L3555,2033.9 L3558,2037.1 L3560.5,1872.6 L3564.5,1878.5 L3568.5,1884.3 L3572.5,1890 L3576.5,1895.7 L3580.5,1901.3 L3584.5,1906.9 L3588.5,1912.4 L3592.5,1917.9 L3596.5,1923.3 L3600.5,1928.6 L3604.5,1933.9 L3608.5,1939.1 L3612.5,1944.3 L3616.5,1949.5 L3620.5,1954.5 L3624.5,1959.6 L3628.5,1964.6 L3632.5,1969.5 L3636.5,1974.4 L3640.5,1979.2 L3644.5,1984 L3648.5,1988.7 L3652.5,1993.4 L3656.5,1998 L3660.5,2002.6 L3664.5,2007.2 L3668.5,2011.7 L3672.5,2016.1 L3676.5,2020.6 L3680.5,2024.9 L3684.5,2029.3 L3688.5,2033.5 L3691.5,2036.7 L3694,1872.2 L3696.5,1875.9 L3700.5,1881.7 L3704.5,1887.5 L3708.5,1893.2 L3712.5,1898.8 L3716.5,1904.4 L3720.5,1910 L3724.5,1915.4 L3728.5,1920.9 L3732.5,1926.2 L3736.5,1931.6 L3740.5,1936.8 L3744.5,1942 L3748.5,1947.2 L3752.5,1952.3 L3756.5,1957.3 L3760.5,1962.4 L3764.5,1967.3 L3768.5,1972.2 L3772.5,1977.1 L3776.5,1981.9 L3780.5,1986.6 L3784.5,1991.3 L3788.5,1996 L3792.5,2000.6 L3796.5,2005.2 L3800.5,2009.7 L3804.5,2014.2 L3808.5,2018.6 L3812.5,2023 L3816.5,2027.3 L3820.5,2031.6 L3822.5,2033.8 L3825.5,2037 L3828,1872.5 L3832.5,1879.1 L3836.5,1884.8 L3840.5,1890.6 L3844.5,1896.3 L3848.5,1901.9 L3852.5,1907.4 L3856.5,1912.9 L3860.5,1918.4 L3864.5,1923.8 L3868.5,1929.1 L3872.5,1934.4 L3876.5,1939.6 L3880.5,1944.8 L3884.5,1950 L3888.5,1955 L3892.5,1960.1 L3896.5,1965 L3900.5,1970 L3904.5,1974.8 L3908.5,1979.7 L3912.5,1984.4 L3916.5,1989.2 L3920.5,1993.9 L3924.5,1998.5 L3928.5,2003.1 L3932.5,2007.6 L3936.5,2012.1 L3940.5,2016.6 L3944.5,2021 L3948.5,2025.4 L3952.5,2029.7 L3956.5,2034 L3959.5,2037.1 L3962,1872.6 L3964.5,1876.3 L3968.5,1882.1 L3972.5,1887.9 L3976.5,1893.6 L3980.5,1899.2 L3984.5,1904.8 L3988.5,1910.4 L3992.5,1915.8 L3996.5,1921.3 L4000.5,1926.6 L4004.5,1931.9 L4008.5,1937.2 L4012.5,1942.4 L4016.5,1947.5 L4016.7,1947.8" stroke="#0000ff" stroke-width="14.9" fill="none" stroke-linejoin="round"/>
<clipPath id="clipv1"><rect x="0" y="0" width="4167" height="2818.0"/></clipPath>
<path d="M572.5,2748 L576.5,2748 L580.5,2748 L584.5,2748 L588.5,2748 L592.5,2748 L596.5,2748 L600.5,2748 L604.5,2748 L608.5,2748 L612.5,2748 L616.5,2748 L620.5,2748 L624.5,2748 L628.5,2748 L632.5,2748 L636.5,2748 L640.5,2748 L644.5,2748 L648.5,2748 L652.5,2748 L656.5,2748 L660.5,2748 L664.5,2748 L668.5,2748 L672.5,2747.9 L676.5,2747.9 L680.5,2747.9 L684.5,2747.9 L688.5,2747.9 L692.5,2747.9 L696.5,2747.9 L700.5,2747.9 L704.5,2747.9 L708.5,2747.9 L712.5,2747.9 L716.5,2747.9 L720.5,2747.9 L724.5,2747.8 L728.5,2747.8 L732.5,2747.8 L736.5,2747.8 L740.5,2747.8 L744.5,2747.8 L748.5,2747.7 L752.5,2747.7 L756.5,2747.7 L760.5,2747.7 L764.5,2747.6 L768.5,2747.6 L772.5,2747.6 L776.5,2747.5 L780.5,2747.5 L784.5,2747.4 L788.5,2747.4 L792.5,2747.3 L796.5,2747.3 L800.5,2747.2 L804.5,2747.1 L808.5,2747.1 L812.5,2747 L816.5,2746.9 L820.5,2746.8 L824.5,2746.7 L828.5,2746.6 L832.5,2746.5 L836.5,2746.3 L840.5,2746.2 L844.5,2746 L848.5,2745.8 L852.5,2745.6 L856.5,2745.4 L860.5,2745.2 L864.5,2745 L868.5,2744.7 L872.5,2744.4 L876.5,2744.1 L880.5,2743.8 L884.5,2743.4 L888.5,2743 L892.5,2742.6 L896.5,2742.1 L900.5,2741.6 L904.5,2741 L908.5,2740.4 L912.5,2739.8 L916.5,2739.1 L920.5,2738.3 L924.5,2737.5 L928.5,2736.6 L932.5,2735.7 L936.5,2734.6 L940.5,2733.5 L944.5,2732.3 L948.5,2731.1 L952.5,2729.7 L956.5,2728.2 L960.5,2726.6 L964.5,2724.9 L968.5,2723.1 L972.5,2721.2 L976.5,2719.1 L980.5,2716.9 L984.5,2714.5 L988.5,2712.1 L992.5,2709.4 L996.5,2706.6 L1000.5,2703.7 L1004.5,2700.6 L1008.5,2697.4 L1012.5,2694 L1016.5,2690.5 L1020.5,2686.8 L1024.5,2683 L1026.6,2680.9 L1029.6,2565 L1032.1,2820.4 L1036.5,2814.2 L1040.5,2808.4 L1044.5,2802.6 L1048.5,2796.7 L1052.5,2790.8 L1056.5,2784.8 L1060.5,2778.8 L1064.5,2772.8 L1068.5,2766.8 L1072.5,2760.8 L1076.5,2754.9 L1080.5,2749 L1084.5,2743.2 L1088.5,2737.5 L1092.5,2731.9 L1096.5,2726.4 L1100.5,2721.1 L1104.5,2715.9 L1108.5,2710.8 L1112.5,2705.9 L1116.5,2701.1 L1120.5,2696.5 L1124.5,2692.1 L1128.5,2687.8 L1132.5,2683.7 L1136.5,2679.7 L1139,2677.3 L1142,2674.6 L1144.5,2817.4 L1148.5,2812.4 L1152.5,2807.7 L1156.5,2803.1 L1160.5,2798.6 L1164.5,2794.3 L1168.5,2790.2 L1172.5,2786.1 L1176.5,2782.3 L1180.5,2778.5 L1184.5,2774.8 L1188.5,2771.3 L1192.5,2767.9 L1196.5,2764.6 L1200.5,2761.4 L1204.5,2758.3 L1208.5,2755.2 L1212.5,2752.3 L1216.5,2749.4 L1220.5,2746.6 L1224.5,2743.9 L1228.5,2741.3 L1232.5,2738.7 L1236.5,2736.1 L1240.5,2733.7 L1244.5,2731.3 L1248.5,2728.9 L1252.5,2726.6 L1256.5,2724.3 L1260.5,2722.1 L1264.5,2719.9 L1268.5,2717.8 L1272.5,2715.7 L1276.5,2713.6 L1280.5,2711.6 L1284.5,2709.6 L1288.5,2707.6 L1292.5,2705.7 L1296.5,2703.8 L1300.5,2702 L1304.5,2700.1 L1308.5,2698.3 L1312.5,2696.5 L1316.5,2694.7 L1320.5,2693 L1324.5,2691.3 L1328.5,2689.6 L1332.5,2687.9 L1336.5,2686.3 L1340.5,2684.6 L1344.5,2683 L1348.5,2681.4 L1352.5,2679.9 L1356.5,2678.3 L1360.5,2676.8 L1363.7,2675.6 L1366.7,2674.5 L1369.2,2818.6 L1372.5,2816.2 L1376.5,2813.3 L1380.5,2810.4 L1384.5,2807.5 L1388.5,2804.7 L1392.5,2801.9 L1396.5,2799.2 L1400.5,2796.4 L1404.5,2793.7 L1408.5,2791.1 L1412.5,2788.4 L1416.5,2785.8 L1420.5,2783.2 L1424.5,2780.7 L1428.5,2778.1 L1432.5,2775.6 L1436.5,2773.1 L1440.5,2770.6 L1444.5,2768.2 L1448.5,2765.8 L1452.5,2763.4 L1456.5,2761 L1460.5,2758.7 L1464.5,2756.4 L1468.5,2754.1 L1472.5,2751.8 L1476.5,2749.6 L1480.5,2747.4 L1484.5,2745.2 L1488.5,2743 L1492.5,2740.8 L1496.5,2738.7 L1500.5,2736.6 L1504.5,2734.5 L1508.5,2732.4 L1512.5,2730.3 L1516.5,2728.3 L1520.5,2726.3 L1524.5,2724.3 L1528.5,2722.3 L1532.5,2720.3 L1536.5,2718.4 L1540.5,2716.5 L1544.5,2714.6 L1548.5,2712.7 L1552.5,2710.8 L1556.5,2708.9 L1560.5,2707.1 L1564.5,2705.3 L1568.5,2703.5 L1572.5,2701.7 L1576.5,2699.9 L1580.5,2698.1 L1584.5,2696.4 L1588.5,2694.7 L1592.5,2692.9 L1596.5,2691.2 L1600.5,2689.5 L1604.5,2687.8 L1608.5,2686.2 L1612.5,2684.5 L1616.5,2682.8 L1620.5,2681.2 L1624.5,2679.6 L1628.5,2677.9 L1632.5,2676.3 L1635,2675.3 L1638,2565 L1640.5,2818.2 L1644.5,2815.1 L1648.5,2812 L1652.5,2809 L1656.5,2806 L1660.5,2803 L1664.5,2800 L1668.5,2797 L1672.5,2794 L1676.5,2791.1 L1680.5,2788.1 L1684.5,2785.2 L1688.5,2782.2 L1692.5,2779.3 L1696.5,2776.3 L1700.5,2773.3 L1704.5,2770.4 L1708.5,2767.4 L1712.5,2764.4 L1716.5,2761.4 L1720.5,2758.3 L1724.5,2755.3 L1728.5,2752.2 L1732.5,2749.1 L1736.5,2746 L1740.5,2742.8 L1744.5,2739.5 L1748.5,2736.3 L1752.5,2732.9 L1756.5,2729.6 L1760.5,2726.1 L1764.5,2722.6 L1768.5,2719 L1772.5,2715.4 L1776.5,2711.7 L1780.5,2707.8 L1784.5,2703.9 L1788.5,2699.9 L1792.5,2695.8 L1796.5,2691.6 L1800.5,2687.3 L1804.5,2682.9 L1807,2680.1 L1810,2676.6 L1812.5,2818.8 L1816.5,2812.6 L1820.5,2806.3 L1824.5,2799.9 L1828.5,2793.3 L1832.5,2786.7 L1836.5,2780 L1840.5,2773.2 L1844.5,2766.3 L1848.5,2759.4 L1852.5,2752.3 L1856.5,2745.2 L1860.5,2738.1 L1864.5,2730.9 L1868.5,2723.7 L1872.5,2716.5 L1876.5,2709.2 L1880.5,2702 L1884.5,2694.8 L1888.5,2687.6 L1889.7,2685.5 L1892.7,2565 L1895.2,2820.8 L1896.5,2818.1 L1900.5,2809.7 L1904.5,2801.3 L1908.5,2793.1 L1912.5,2785 L1916.5,2777.1 L1920.5,2769.3 L1924.5,2761.6 L1928.5,2754.1 L1932.5,2746.8 L1936.5,2739.6 L1940.5,2732.6 L1944.5,2725.8 L1948.5,2719.2 L1952.5,2712.7 L1956.5,2706.4 L1960.5,2700.2 L1964.5,2694.3 L1968.5,2688.4 L1971.6,2684.1 L1974.6,2565 L1977.1,2821.6 L1980.5,2815.8 L1984.5,2809.2 L1988.5,2802.7 L1992.5,2796.3 L1996.5,2790.2 L2000.5,2784.1 L2004.5,2778.2 L2008.5,2772.5 L2012.5,2766.8 L2016.5,2761.3 L2020.5,2755.9 L2024.5,2750.6 L2028.5,2745.4 L2032.5,2740.3 L2036.5,2735.4 L2040.5,2730.5 L2044.5,2725.7 L2048.5,2721 L2052.5,2716.4 L2056.5,2711.8 L2060.5,2707.4 L2064.5,2703 L2068.5,2698.7 L2072.5,2694.4 L2076.5,2690.3 L2080.5,2686.2 L2084.5,2682.1 L2085.5,2681.1 L2088.5,2678.1 L2091,2820.7 L2092.5,2818.7 L2096.5,2813.4 L2100.5,2808.2 L2104.5,2803 L2108.5,2797.8 L2112.5,2792.8 L2116.5,2787.8 L2120.5,2782.9 L2124.5,2778 L2128.5,2773.2 L2132.5,2768.4 L2136.5,2763.7 L2140.5,2759.1 L2144.5,2754.5 L2148.5,2749.9 L2152.5,2745.4 L2156.5,2741 L2160.5,2736.6 L2164.5,2732.3 L2168.5,2728 L2172.5,2723.7 L2176.5,2719.5 L2180.5,2715.4 L2184.5,2711.2 L2188.5,2707.2 L2192.5,2703.2 L2196.5,2699.2 L2200.5,2695.2 L2204.5,2691.3 L2208.5,2687.5 L2212.5,2683.7 L2216.5,2679.9 L2218.5,2678 L2221.5,2565 L2224,2818 L2228.5,2812.2 L2232.5,2807.2 L2236.5,2802.2 L2240.5,2797.2 L2244.5,2792.3 L2248.5,2787.4 L2252.5,2782.6 L2256.5,2777.9 L2260.5,2773.2 L2264.5,2768.5 L2268.5,2763.9 L2272.5,2759.3 L2276.5,2754.8 L2280.5,2750.3 L2284.5,2745.9 L2288.5,2741.5 L2292.5,2737.2 L2296.5,2732.9 L2300.5,2728.6 L2304.5,2724.4 L2308.5,2720.2 L2312.5,2716.1 L2316.5,2712 L2320.5,2708 L2324.5,2704 L2328.5,2700 L2332.5,2696.1 L2336.5,2692.2 L2340.5,2688.4 L2344.5,2684.6 L2348.5,2680.8 L2351,2678.5 L2354,2675.7 L2356.5,2818.5 L2360.5,2813.4 L2364.5,2808.3 L2368.5,2803.3 L2372.5,2798.3 L2376.5,2793.4 L2380.5,2788.6 L2384.5,2783.8 L2388.5,2779 L2392.5,2774.3 L2396.5,2769.6 L2400.5,2765 L2404.5,2760.4 L2408.5,2755.9 L2412.5,2751.4 L2416.5,2747 L2420.5,2742.6 L2424.5,2738.2 L2428.5,2733.9 L2432.5,2729.7 L2436.5,2725.4 L2440.5,2721.3 L2444.5,2717.1 L2448.5,2713 L2452.5,2709 L2456.5,2705 L2460.5,2701 L2464.5,2697.1 L2468.5,2693.2 L2472.5,2689.3 L2476.5,2685.5 L2480.5,2681.8 L2484.5,2678 L2487.5,2565 L2490,2818 L2492.5,2814.8 L2496.5,2809.8 L2500.5,2804.7 L2504.5,2799.8 L2508.5,2794.8 L2512.5,2790 L2516.5,2785.1 L2520.5,2780.4 L2524.5,2775.6 L2528.5,2771 L2532.5,2766.3 L2536.5,2761.7 L2540.5,2757.2 L2544.5,2752.7 L2548.5,2748.3 L2552.5,2743.9 L2556.5,2739.5 L2560.5,2735.2 L2564.5,2730.9 L2568.5,2726.7 L2572.5,2722.5 L2576.5,2718.3 L2580.5,2714.2 L2584.5,2710.2 L2588.5,2706.2 L2592.5,2702.2 L2596.5,2698.2 L2600.5,2694.3 L2604.5,2690.5 L2608.5,2686.6 L2612.5,2682.9 L2616.5,2679.1 L2617,2678.6 L2620,2675.9 L2622.5,2818.6 L2624.5,2816.1 L2628.5,2811 L2632.5,2806 L2636.5,2801 L2640.5,2796 L2644.5,2791.2 L2648.5,2786.3 L2652.5,2781.5 L2656.5,2776.8 L2660.5,2772.1 L2664.5,2767.5 L2668.5,2762.9 L2672.5,2758.3 L2676.5,2753.8 L2680.5,2749.3 L2684.5,2744.9 L2688.5,2740.6 L2692.5,2736.2 L2696.5,2731.9 L2700.5,2727.7 L2704.5,2723.5 L2708.5,2719.3 L2712.5,2715.2 L2716.5,2711.2 L2720.5,2707.1 L2724.5,2703.1 L2728.5,2699.2 L2732.5,2695.3 L2736.5,2691.4 L2740.5,2687.6 L2744.5,2683.8 L2748.5,2680 L2750.5,2678.2 L2753.5,2565 L2756,2818.2 L2760.5,2812.4 L2764.5,2807.4 L2768.5,2802.4 L2772.5,2797.4 L2776.5,2792.5 L2780.5,2787.7 L2784.5,2782.9 L2788.5,2778.1 L2792.5,2773.4 L2796.5,2768.8 L2800.5,2764.1 L2804.5,2759.6 L2808.5,2755.1 L2812.5,2750.6 L2816.5,2746.2 L2820.5,2741.8 L2824.5,2737.4 L2828.5,2733.1 L2832.5,2728.9 L2836.5,2724.7 L2840.5,2720.5 L2844.5,2716.4 L2848.5,2712.3 L2852.5,2708.3 L2856.5,2704.3 L2860.5,2700.3 L2864.5,2696.4 L2868.5,2692.5 L2872.5,2688.6 L2876.5,2684.8 L2880.5,2681.1 L2884,2677.8 L2887,2675 L2889.5,2817.8 L2892.5,2814 L2896.5,2808.9 L2900.5,2803.9 L2904.5,2798.9 L2908.5,2794 L2912.5,2789.2 L2916.5,2784.3 L2920.5,2779.6 L2921,2779 L2922,2748 L4016.7,2748" stroke="#000" stroke-width="14.7" fill="none" stroke-linejoin="round" stroke-linecap="butt" clip-path="url(#clipv1)"/>
<clipPath id="clipv2"><rect x="0" y="0" width="4167" height="3163.8"/></clipPath>
<path d="M572.5,3093 L576.5,3093 L580.5,3093 L584.5,3093 L588.5,3093 L592.5,3093 L596.5,3093 L600.5,3093 L604.5,3093 L608.5,3093 L612.5,3093 L616.5,3093 L620.5,3093 L624.5,3093 L628.5,3093 L632.5,3093 L636.5,3093 L640.5,3093 L644.5,3093 L648.5,3093 L652.5,3093 L656.5,3093 L660.5,3093 L664.5,3093 L668.5,3093 L672.5,3092.9 L676.5,3092.9 L680.5,3092.9 L684.5,3092.9 L688.5,3092.9 L692.5,3092.9 L696.5,3092.9 L700.5,3092.9 L704.5,3092.9 L708.5,3092.9 L712.5,3092.9 L716.5,3092.9 L720.5,3092.9 L724.5,3092.8 L728.5,3092.8 L732.5,3092.8 L736.5,3092.8 L740.5,3092.8 L744.5,3092.8 L748.5,3092.7 L752.5,3092.7 L756.5,3092.7 L760.5,3092.7 L764.5,3092.6 L768.5,3092.6 L772.5,3092.6 L776.5,3092.5 L780.5,3092.5 L784.5,3092.4 L788.5,3092.4 L792.5,3092.3 L796.5,3092.3 L800.5,3092.2 L804.5,3092.1 L808.5,3092.1 L812.5,3092 L816.5,3091.9 L820.5,3091.8 L824.5,3091.7 L828.5,3091.6 L832.5,3091.5 L836.5,3091.3 L840.5,3091.2 L844.5,3091 L848.5,3090.8 L852.5,3090.6 L856.5,3090.4 L860.5,3090.2 L864.5,3090 L868.5,3089.7 L872.5,3089.4 L876.5,3089.1 L880.5,3088.8 L884.5,3088.4 L888.5,3088 L892.5,3087.6 L896.5,3087.1 L900.5,3086.6 L904.5,3086 L908.5,3085.4 L912.5,3084.8 L916.5,3084.1 L920.5,3083.3 L924.5,3082.5 L928.5,3081.6 L932.5,3080.7 L936.5,3079.6 L940.5,3078.5 L944.5,3077.3 L948.5,3076.1 L952.5,3074.7 L956.5,3073.2 L960.5,3071.6 L964.5,3069.9 L968.5,3068.1 L972.5,3066.2 L976.5,3064.1 L980.5,3061.9 L984.5,3059.5 L988.5,3057.1 L992.5,3054.4 L996.5,3051.6 L1000.5,3048.7 L1004.5,3045.6 L1008.5,3042.4 L1012.5,3039 L1016.5,3035.5 L1020.5,3031.8 L1024.5,3028 L1026.6,3025.9 L1029.6,3022.9 L1032.1,3165.4 L1036.5,3159.2 L1040.5,3153.4 L1044.5,3147.6 L1048.5,3141.7 L1052.5,3135.8 L1056.5,3129.8 L1060.5,3123.8 L1064.5,3117.8 L1068.5,3111.8 L1072.5,3105.8 L1076.5,3099.9 L1080.5,3094 L1084.5,3088.2 L1088.5,3082.5 L1092.5,3076.9 L1096.5,3071.4 L1100.5,3066.1 L1104.5,3060.9 L1108.5,3055.8 L1112.5,3050.9 L1116.5,3046.1 L1120.5,3041.5 L1124.5,3037.1 L1128.5,3032.8 L1132.5,3028.7 L1136.5,3024.7 L1139,3022.3 L1142,2910 L1144.5,3162.4 L1148.5,3157.4 L1152.5,3152.7 L1156.5,3148.1 L1160.5,3143.6 L1164.5,3139.3 L1168.5,3135.2 L1172.5,3131.1 L1176.5,3127.3 L1180.5,3123.5 L1184.5,3119.8 L1188.5,3116.3 L1192.5,3112.9 L1196.5,3109.6 L1200.5,3106.4 L1204.5,3103.3 L1208.5,3100.2 L1212.5,3097.3 L1216.5,3094.4 L1220.5,3091.6 L1224.5,3088.9 L1228.5,3086.3 L1232.5,3083.7 L1236.5,3081.1 L1240.5,3078.7 L1244.5,3076.3 L1248.5,3073.9 L1252.5,3071.6 L1256.5,3069.3 L1260.5,3067.1 L1264.5,3064.9 L1268.5,3062.8 L1272.5,3060.7 L1276.5,3058.6 L1280.5,3056.6 L1284.5,3054.6 L1288.5,3052.6 L1292.5,3050.7 L1296.5,3048.8 L1300.5,3047 L1304.5,3045.1 L1308.5,3043.3 L1312.5,3041.5 L1316.5,3039.7 L1320.5,3038 L1324.5,3036.3 L1328.5,3034.6 L1332.5,3032.9 L1336.5,3031.3 L1340.5,3029.6 L1344.5,3028 L1348.5,3026.4 L1352.5,3024.9 L1356.5,3023.3 L1360.5,3021.8 L1363.7,3020.6 L1366.7,2910 L1369.2,3163.6 L1372.5,3161.2 L1376.5,3158.3 L1380.5,3155.4 L1384.5,3152.5 L1388.5,3149.7 L1392.5,3146.9 L1396.5,3144.2 L1400.5,3141.4 L1404.5,3138.7 L1408.5,3136.1 L1412.5,3133.4 L1416.5,3130.8 L1420.5,3128.2 L1424.5,3125.7 L1428.5,3123.1 L1432.5,3120.6 L1436.5,3118.1 L1440.5,3115.6 L1444.5,3113.2 L1448.5,3110.8 L1452.5,3108.4 L1456.5,3106 L1460.5,3103.7 L1464.5,3101.4 L1468.5,3099.1 L1472.5,3096.8 L1476.5,3094.6 L1480.5,3092.4 L1484.5,3090.2 L1488.5,3088 L1492.5,3085.8 L1496.5,3083.7 L1500.5,3081.6 L1504.5,3079.5 L1508.5,3077.4 L1512.5,3075.3 L1516.5,3073.3 L1520.5,3071.3 L1524.5,3069.3 L1528.5,3067.3 L1532.5,3065.3 L1536.5,3063.4 L1540.5,3061.5 L1544.5,3059.6 L1548.5,3057.7 L1552.5,3055.8 L1556.5,3053.9 L1560.5,3052.1 L1564.5,3050.3 L1568.5,3048.5 L1572.5,3046.7 L1576.5,3044.9 L1580.5,3043.1 L1584.5,3041.4 L1588.5,3039.7 L1592.5,3037.9 L1596.5,3036.2 L1600.5,3034.5 L1604.5,3032.8 L1608.5,3031.2 L1612.5,3029.5 L1616.5,3027.8 L1620.5,3026.2 L1624.5,3024.6 L1628.5,3022.9 L1632.5,3021.3 L1635,3020.3 L1638,3019.1 L1640.5,3163.2 L1644.5,3160.1 L1648.5,3157 L1652.5,3154 L1656.5,3151 L1660.5,3148 L1664.5,3145 L1668.5,3142 L1672.5,3139 L1676.5,3136.1 L1680.5,3133.1 L1684.5,3130.2 L1688.5,3127.2 L1692.5,3124.3 L1696.5,3121.3 L1700.5,3118.3 L1704.5,3115.4 L1708.5,3112.4 L1712.5,3109.4 L1716.5,3106.4 L1720.5,3103.3 L1724.5,3100.3 L1728.5,3097.2 L1732.5,3094.1 L1736.5,3091 L1740.5,3087.8 L1744.5,3084.5 L1748.5,3081.3 L1752.5,3077.9 L1756.5,3074.6 L1760.5,3071.1 L1764.5,3067.6 L1768.5,3064 L1772.5,3060.4 L1776.5,3056.7 L1780.5,3052.8 L1784.5,3048.9 L1788.5,3044.9 L1792.5,3040.8 L1796.5,3036.6 L1800.5,3032.3 L1804.5,3027.9 L1807,3025.1 L1810,2910 L1812.5,3163.8 L1816.5,3157.6 L1820.5,3151.3 L1824.5,3144.9 L1828.5,3138.3 L1832.5,3131.7 L1836.5,3125 L1840.5,3118.2 L1844.5,3111.3 L1848.5,3104.4 L1852.5,3097.3 L1856.5,3090.2 L1860.5,3083.1 L1864.5,3075.9 L1868.5,3068.7 L1872.5,3061.5 L1876.5,3054.2 L1880.5,3047 L1884.5,3039.8 L1888.5,3032.6 L1889.7,3030.5 L1892.7,3025.2 L1895.2,3165.8 L1896.5,3163.1 L1900.5,3154.7 L1904.5,3146.3 L1908.5,3138.1 L1912.5,3130 L1916.5,3122.1 L1920.5,3114.3 L1924.5,3106.6 L1928.5,3099.1 L1932.5,3091.8 L1936.5,3084.6 L1940.5,3077.6 L1944.5,3070.8 L1948.5,3064.2 L1952.5,3057.7 L1956.5,3051.4 L1960.5,3045.2 L1964.5,3039.3 L1968.5,3033.4 L1971.6,3029.1 L1974.6,3024.9 L1977.1,3166.6 L1980.5,3160.8 L1984.5,3154.2 L1988.5,3147.7 L1992.5,3141.3 L1996.5,3135.2 L2000.5,3129.1 L2004.5,3123.2 L2008.5,3117.5 L2012.5,3111.8 L2016.5,3106.3 L2020.5,3100.9 L2024.5,3095.6 L2028.5,3090.4 L2032.5,3085.3 L2036.5,3080.4 L2040.5,3075.5 L2044.5,3070.7 L2048.5,3066 L2052.5,3061.4 L2056.5,3056.8 L2060.5,3052.4 L2064.5,3048 L2068.5,3043.7 L2072.5,3039.4 L2076.5,3035.3 L2080.5,3031.2 L2084.5,3027.1 L2085.5,3026.1 L2088.5,2910 L2091,3165.7 L2092.5,3163.7 L2096.5,3158.4 L2100.5,3153.2 L2104.5,3148 L2108.5,3142.8 L2112.5,3137.8 L2116.5,3132.8 L2120.5,3127.9 L2124.5,3123 L2128.5,3118.2 L2132.5,3113.4 L2136.5,3108.7 L2140.5,3104.1 L2144.5,3099.5 L2148.5,3094.9 L2152.5,3090.4 L2156.5,3086 L2160.5,3081.6 L2164.5,3077.3 L2168.5,3073 L2172.5,3068.7 L2176.5,3064.5 L2180.5,3060.4 L2184.5,3056.2 L2188.5,3052.2 L2192.5,3048.2 L2196.5,3044.2 L2200.5,3040.2 L2204.5,3036.3 L2208.5,3032.5 L2212.5,3028.7 L2216.5,3024.9 L2218.5,3023 L2221.5,3020.2 L2224,3163 L2228.5,3157.2 L2232.5,3152.2 L2236.5,3147.2 L2240.5,3142.2 L2244.5,3137.3 L2248.5,3132.4 L2252.5,3127.6 L2256.5,3122.9 L2260.5,3118.2 L2264.5,3113.5 L2268.5,3108.9 L2272.5,3104.3 L2276.5,3099.8 L2280.5,3095.3 L2284.5,3090.9 L2288.5,3086.5 L2292.5,3082.2 L2296.5,3077.9 L2300.5,3073.6 L2304.5,3069.4 L2308.5,3065.2 L2312.5,3061.1 L2316.5,3057 L2320.5,3053 L2324.5,3049 L2328.5,3045 L2332.5,3041.1 L2336.5,3037.2 L2340.5,3033.4 L2344.5,3029.6 L2348.5,3025.8 L2351,3023.5 L2354,2910 L2356.5,3163.5 L2360.5,3158.4 L2364.5,3153.3 L2368.5,3148.3 L2372.5,3143.3 L2376.5,3138.4 L2380.5,3133.6 L2384.5,3128.8 L2388.5,3124 L2392.5,3119.3 L2396.5,3114.6 L2400.5,3110 L2404.5,3105.4 L2408.5,3100.9 L2412.5,3096.4 L2416.5,3092 L2420.5,3087.6 L2424.5,3083.2 L2428.5,3078.9 L2432.5,3074.7 L2436.5,3070.4 L2440.5,3066.3 L2444.5,3062.1 L2448.5,3058 L2452.5,3054 L2456.5,3050 L2460.5,3046 L2464.5,3042.1 L2468.5,3038.2 L2472.5,3034.3 L2476.5,3030.5 L2480.5,3026.8 L2484.5,3023 L2487.5,3020.2 L2490,3163 L2492.5,3159.8 L2496.5,3154.8 L2500.5,3149.7 L2504.5,3144.8 L2508.5,3139.8 L2512.5,3135 L2516.5,3130.1 L2520.5,3125.4 L2524.5,3120.6 L2528.5,3116 L2532.5,3111.3 L2536.5,3106.7 L2540.5,3102.2 L2544.5,3097.7 L2548.5,3093.3 L2552.5,3088.9 L2556.5,3084.5 L2560.5,3080.2 L2564.5,3075.9 L2568.5,3071.7 L2572.5,3067.5 L2576.5,3063.3 L2580.5,3059.2 L2584.5,3055.2 L2588.5,3051.2 L2592.5,3047.2 L2596.5,3043.2 L2600.5,3039.3 L2604.5,3035.5 L2608.5,3031.6 L2612.5,3027.9 L2616.5,3024.1 L2617,3023.6 L2620,2910 L2622.5,3163.6 L2624.5,3161.1 L2628.5,3156 L2632.5,3151 L2636.5,3146 L2640.5,3141 L2644.5,3136.2 L2648.5,3131.3 L2652.5,3126.5 L2656.5,3121.8 L2660.5,3117.1 L2664.5,3112.5 L2668.5,3107.9 L2672.5,3103.3 L2676.5,3098.8 L2680.5,3094.3 L2684.5,3089.9 L2688.5,3085.6 L2692.5,3081.2 L2696.5,3076.9 L2700.5,3072.7 L2704.5,3068.5 L2708.5,3064.3 L2712.5,3060.2 L2716.5,3056.2 L2720.5,3052.1 L2724.5,3048.1 L2728.5,3044.2 L2732.5,3040.3 L2736.5,3036.4 L2740.5,3032.6 L2744.5,3028.8 L2748.5,3025 L2750.5,3023.2 L2753.5,3020.4 L2756,3163.2 L2760.5,3157.4 L2764.5,3152.4 L2768.5,3147.4 L2772.5,3142.4 L2776.5,3137.5 L2780.5,3132.7 L2784.5,3127.9 L2788.5,3123.1 L2792.5,3118.4 L2796.5,3113.8 L2800.5,3109.1 L2804.5,3104.6 L2808.5,3100.1 L2812.5,3095.6 L2816.5,3091.2 L2820.5,3086.8 L2824.5,3082.4 L2828.5,3078.1 L2832.5,3073.9 L2836.5,3069.7 L2840.5,3065.5 L2844.5,3061.4 L2848.5,3057.3 L2852.5,3053.3 L2856.5,3049.3 L2860.5,3045.3 L2864.5,3041.4 L2868.5,3037.5 L2872.5,3033.6 L2876.5,3029.8 L2880.5,3026.1 L2884,3022.8 L2887,2910 L2889.5,3162.8 L2892.5,3159 L2896.5,3153.9 L2900.5,3148.9 L2904.5,3143.9 L2908.5,3139 L2912.5,3134.2 L2916.5,3129.3 L2920.5,3124.6 L2924.5,3119.9 L2928.5,3115.2 L2932.5,3110.6 L2936.5,3106 L2940.5,3101.5 L2944.5,3097 L2948.5,3092.5 L2952.5,3088.1 L2956.5,3083.8 L2960.5,3079.5 L2964.5,3075.2 L2968.5,3071 L2972.5,3066.8 L2976.5,3062.7 L2980.5,3058.6 L2984.5,3054.5 L2988.5,3050.5 L2992.5,3046.5 L2996.5,3042.6 L3000.5,3038.7 L3004.5,3034.8 L3008.5,3031 L3012.5,3027.2 L3016.5,3023.5 L3018,3022.1 L3021,2910 L3023.5,3162.1 L3024.5,3160.8 L3028.5,3155.8 L3032.5,3150.7 L3036.5,3145.7 L3040.5,3140.8 L3044.5,3135.9 L3048.5,3131.1 L3052.5,3126.3 L3056.5,3121.6 L3060.5,3116.9 L3064.5,3112.2 L3068.5,3107.6 L3072.5,3103.1 L3076.5,3098.6 L3080.5,3094.1 L3084.5,3089.7 L3088.5,3085.3 L3092.5,3081 L3096.5,3076.7 L3100.5,3072.5 L3104.5,3068.3 L3108.5,3064.2 L3112.5,3060 L3116.5,3056 L3120.5,3051.9 L3124.5,3048 L3128.5,3044 L3132.5,3040.1 L3136.5,3036.2 L3140.5,3032.4 L3144.5,3028.6 L3148.5,3024.8 L3152.5,3021.1 L3153,3020.7 L3156,2910 L3158.5,3160.7 L3160.5,3158.2 L3164.5,3153.1 L3168.5,3148.1 L3172.5,3143.1 L3176.5,3138.2 L3180.5,3133.4 L3184.5,3128.6 L3188.5,3123.8 L3192.5,3119.1 L3196.5,3114.4 L3200.5,3109.8 L3204.5,3105.2 L3208.5,3100.7 L3212.5,3096.2 L3216.5,3091.8 L3220.5,3087.4 L3224.5,3083.1 L3228.5,3078.8 L3232.5,3074.5 L3236.5,3070.3 L3240.5,3066.1 L3244.5,3062 L3248.5,3057.9 L3252.5,3053.8 L3256.5,3049.8 L3260.5,3045.9 L3264.5,3041.9 L3268.5,3038.1 L3272.5,3034.2 L3276.5,3030.4 L3280.5,3026.6 L3284.5,3022.9 L3287,3020.6 L3290,2910 L3292.5,3160.6 L3296.5,3155.5 L3300.5,3150.5 L3304.5,3145.5 L3308.5,3140.6 L3312.5,3135.7 L3316.5,3130.9 L3320.5,3126.1 L3324.5,3121.4 L3328.5,3116.7 L3332.5,3112 L3336.5,3107.4 L3340.5,3102.9 L3344.5,3098.4 L3348.5,3093.9 L3352.5,3089.5 L3356.5,3085.2 L3360.5,3080.8 L3364.5,3076.6 L3368.5,3072.3 L3372.5,3068.1 L3376.5,3064 L3380.5,3059.9 L3384.5,3055.8 L3388.5,3051.8 L3392.5,3047.8 L3396.5,3043.8 L3400.5,3039.9 L3404.5,3036.1 L3408.5,3032.2 L3412.5,3028.4 L3416.5,3024.7 L3420.5,3021 L3422,3019.6 L3425,2910 L3427.5,3159.6 L3428.5,3158.4 L3432.5,3153.3 L3436.5,3148.3 L3440.5,3143.3 L3444.5,3138.4 L3448.5,3133.6 L3452.5,3128.8 L3456.5,3124 L3460.5,3119.3 L3464.5,3114.6 L3468.5,3110 L3472.5,3105.4 L3476.5,3100.9 L3480.5,3096.4 L3484.5,3092 L3488.5,3087.6 L3492.5,3083.2 L3496.5,3078.9 L3500.5,3074.7 L3504.5,3070.5 L3508.5,3066.3 L3512.5,3062.1 L3516.5,3058.1 L3520.5,3054 L3524.5,3050 L3528.5,3046 L3532.5,3042.1 L3536.5,3038.2 L3540.5,3034.4 L3544.5,3030.5 L3548.5,3026.8 L3552.5,3023 L3555,3020.7 L3558,2910 L3560.5,3160.8 L3564.5,3155.7 L3568.5,3150.6 L3572.5,3145.7 L3576.5,3140.7 L3580.5,3135.8 L3584.5,3131 L3588.5,3126.2 L3592.5,3121.5 L3596.5,3116.8 L3600.5,3112.2 L3604.5,3107.6 L3608.5,3103 L3612.5,3098.5 L3616.5,3094.1 L3620.5,3089.6 L3624.5,3085.3 L3628.5,3081 L3632.5,3076.7 L3636.5,3072.4 L3640.5,3068.2 L3644.5,3064.1 L3648.5,3060 L3652.5,3055.9 L3656.5,3051.9 L3660.5,3047.9 L3664.5,3043.9 L3668.5,3040 L3672.5,3036.2 L3676.5,3032.3 L3680.5,3028.5 L3684.5,3024.8 L3688.5,3021.1 L3691.5,2910 L3694,3161.1 L3696.5,3157.9 L3700.5,3152.9 L3704.5,3147.9 L3708.5,3142.9 L3712.5,3138 L3716.5,3133.1 L3720.5,3128.3 L3724.5,3123.6 L3728.5,3118.9 L3732.5,3114.2 L3736.5,3109.6 L3740.5,3105 L3744.5,3100.5 L3748.5,3096 L3752.5,3091.6 L3756.5,3087.2 L3760.5,3082.9 L3764.5,3078.6 L3768.5,3074.3 L3772.5,3070.1 L3776.5,3065.9 L3780.5,3061.8 L3784.5,3057.7 L3788.5,3053.7 L3792.5,3049.6 L3796.5,3045.7 L3800.5,3041.8 L3804.5,3037.9 L3808.5,3034 L3812.5,3030.2 L3816.5,3026.4 L3820.5,3022.7 L3822.5,3020.9 L3825.5,2910 L3828,3160.9 L3832.5,3155.2 L3836.5,3150.1 L3840.5,3145.2 L3844.5,3140.2 L3848.5,3135.4 L3852.5,3130.5 L3856.5,3125.8 L3860.5,3121 L3864.5,3116.3 L3868.5,3111.7 L3872.5,3107.1 L3876.5,3102.6 L3880.5,3098.1 L3884.5,3093.6 L3888.5,3089.2 L3892.5,3084.9 L3896.5,3080.5 L3900.5,3076.3 L3904.5,3072 L3908.5,3067.8 L3912.5,3063.7 L3916.5,3059.6 L3920.5,3055.5 L3924.5,3051.5 L3928.5,3047.5 L3932.5,3043.6 L3936.5,3039.6 L3940.5,3035.8 L3944.5,3032 L3948.5,3028.2 L3952.5,3024.4 L3956.5,3020.7 L3959.5,2910 L3962,3160.7 L3964.5,3157.6 L3968.5,3152.5 L3972.5,3147.5 L3976.5,3142.6 L3980.5,3137.7 L3984.5,3132.8 L3988.5,3128 L3992.5,3123.3 L3996.5,3118.5 L4000.5,3113.9 L4004.5,3109.3 L4008.5,3104.7 L4012.5,3100.2 L4016.5,3095.7 L4016.7,3095.5" stroke="#000" stroke-width="14.7" fill="none" stroke-linejoin="round" stroke-linecap="butt" clip-path="url(#clipv2)"/>
<text transform="translate(417.1,2768.8) scale(1,1.0868)" font-size="97.1" fill="#000" >V</text>
<path transform="translate(482.95,2819.70) scale(0.08164,-0.08051)" d="M357,0 L357,703 L266,703 C250,610 190,567 101,567 L101,493 L266,493 L266,0 Z" fill="#000"/>
<text transform="translate(417.1,3100.7) scale(1,1.0853)" font-size="97.1" fill="#000" >V</text>
<text transform="translate(480.9,3150.9) scale(1,0.9562)" font-size="84.6" fill="#000" >2</text>
<path d="M2919,2441.5 L2931.1,2441.5 L2932,2571.8 L2953,2561.4 L2925.6,2616.2 L2897.7,2561.4 L2919.4,2571.8 Z" fill="#ff0000"/>
<text transform="translate(2853.2,2398.4) scale(1,0.9565)" font-size="101.7" fill="#ff0000" >k.o.</text>
<path d="M3431.5,3212.8 H3818.5" stroke="#000" stroke-width="9.8" fill="none"/>
<path d="M3431.5,3195.8 V3230.8 M3818.5,3195.8 V3230.8" stroke="#000" stroke-width="4.9" fill="none"/>
<path transform="translate(3432.70,3323.80) scale(0.10195,-0.10128)" d="M357,0 L357,703 L266,703 C250,610 190,567 101,567 L101,493 L266,493 L266,0 Z" fill="#000"/>
<text transform="translate(3488.5,3324.7) scale(1,1.0110)" font-size="101.8" fill="#000" >0 msec</text>
</svg>
</body></html>
